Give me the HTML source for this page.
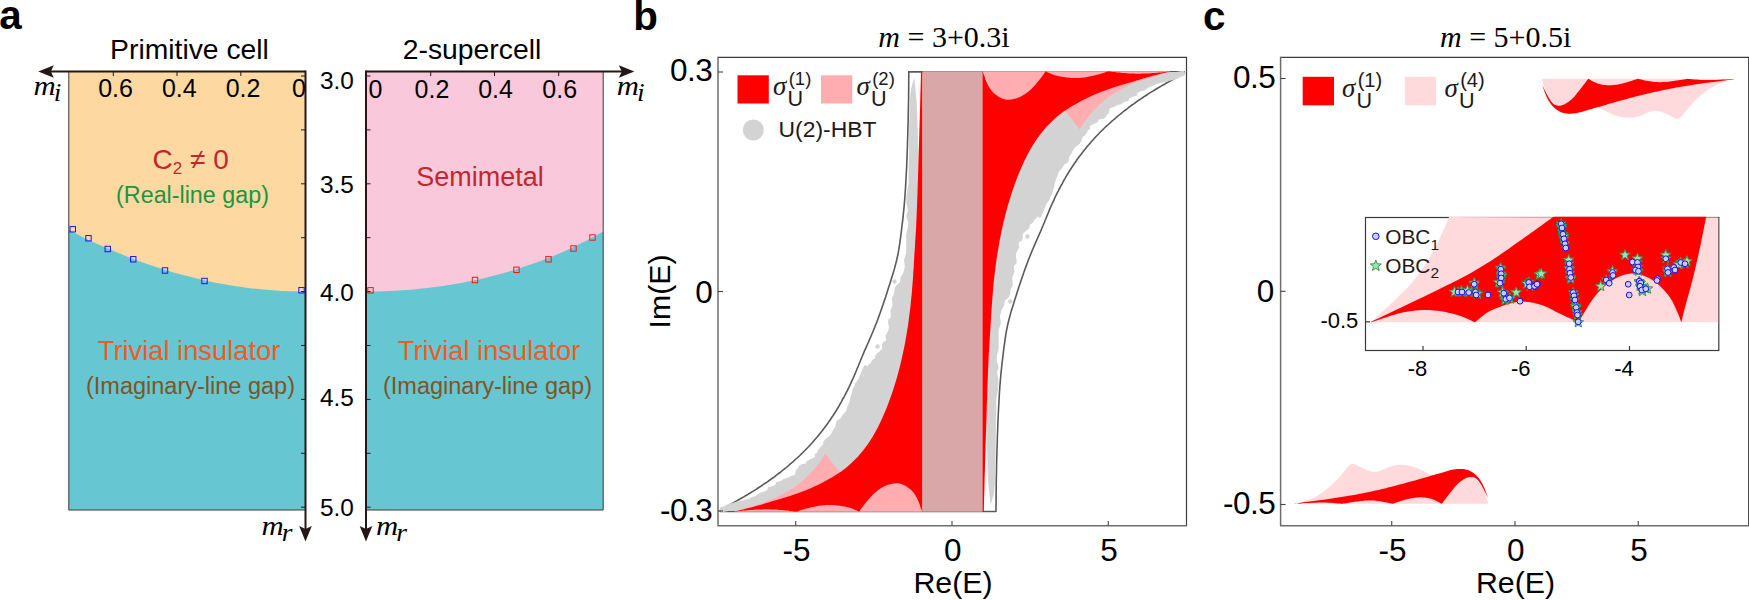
<!DOCTYPE html>
<html><head><meta charset="utf-8"><title>Figure</title>
<style>html,body{margin:0;padding:0;background:#fff}svg{display:block}</style></head>
<body>
<svg width="1749" height="600" viewBox="0 0 1749 600">
<rect width="1749" height="600" fill="#fff"/>
<rect x="68.8" y="71.5" width="236.7" height="438.5" fill="#FDD9A1"/>
<path d="M68.8 230.0 L74.7 233.0 L80.6 236.0 L86.6 238.9 L92.5 241.7 L98.4 244.4 L104.3 247.1 L110.2 249.6 L116.1 252.1 L122.1 254.6 L128.0 256.9 L133.9 259.2 L139.8 261.4 L145.7 263.5 L151.6 265.5 L157.6 267.5 L163.5 269.4 L169.4 271.2 L175.3 272.9 L181.2 274.5 L187.1 276.1 L193.1 277.6 L199.0 279.0 L204.9 280.4 L210.8 281.7 L216.7 282.9 L222.7 284.0 L228.6 285.0 L234.5 286.0 L240.4 286.8 L246.3 287.7 L252.2 288.4 L258.2 289.0 L264.1 289.6 L270.0 290.1 L275.9 290.5 L281.8 290.9 L287.7 291.2 L293.7 291.3 L299.6 291.5 L305.5 291.5 L305.5 510.0 L68.8 510.0 Z" fill="#66C6D1"/>
<rect x="366" y="71.5" width="237.20000000000005" height="438.5" fill="#F9C9DB"/>
<path d="M366.0 291.5 L371.9 291.5 L377.9 291.4 L383.8 291.2 L389.7 291.0 L395.6 290.7 L401.6 290.3 L407.5 289.9 L413.4 289.4 L419.4 288.8 L425.3 288.2 L431.2 287.5 L437.2 286.8 L443.1 285.9 L449.0 285.0 L455.0 284.0 L460.9 283.0 L466.8 281.8 L472.7 280.6 L478.7 279.4 L484.6 278.0 L490.5 276.6 L496.5 275.0 L502.4 273.4 L508.3 271.7 L514.2 270.0 L520.2 268.1 L526.1 266.1 L532.0 264.1 L538.0 262.0 L543.9 259.7 L549.8 257.4 L555.8 254.9 L561.7 252.4 L567.6 249.8 L573.6 247.0 L579.5 244.1 L585.4 241.2 L591.3 238.1 L597.3 234.8 L603.2 231.5 L603.2 510.0 L366.0 510.0 Z" fill="#66C6D1"/>
<path d="M68.8 71.5 V510 H305.5" fill="none" stroke="#3a3a3a" stroke-width="1"/>
<path d="M366 510 H603.2 V71.5" fill="none" stroke="#3a3a3a" stroke-width="1"/>
<path d="M301.0 76.0 H305.5 M366 76.0 H370.5" stroke="#231815" stroke-width="1"/>
<path d="M301.0 129.9 H305.5 M366 129.9 H370.5" stroke="#231815" stroke-width="1"/>
<path d="M301.0 183.8 H305.5 M366 183.8 H370.5" stroke="#231815" stroke-width="1"/>
<path d="M301.0 237.7 H305.5 M366 237.7 H370.5" stroke="#231815" stroke-width="1"/>
<path d="M301.0 291.6 H305.5 M366 291.6 H370.5" stroke="#231815" stroke-width="1"/>
<path d="M301.0 345.5 H305.5 M366 345.5 H370.5" stroke="#231815" stroke-width="1"/>
<path d="M301.0 399.4 H305.5 M366 399.4 H370.5" stroke="#231815" stroke-width="1"/>
<path d="M301.0 453.3 H305.5 M366 453.3 H370.5" stroke="#231815" stroke-width="1"/>
<path d="M301.0 507.2 H305.5 M366 507.2 H370.5" stroke="#231815" stroke-width="1"/>
<path d="M113.3 71.5 v4.5" stroke="#231815" stroke-width="1"/>
<path d="M177 71.5 v4.5" stroke="#231815" stroke-width="1"/>
<path d="M240.8 71.5 v4.5" stroke="#231815" stroke-width="1"/>
<path d="M430.7 71.5 v4.5" stroke="#231815" stroke-width="1"/>
<path d="M494.5 71.5 v4.5" stroke="#231815" stroke-width="1"/>
<path d="M558.7 71.5 v4.5" stroke="#231815" stroke-width="1"/>
<path d="M305.5 71.5 H48" stroke="#231815" stroke-width="2" fill="none"/>
<path d="M38.3 71.5 l15.5 -6.3 l-3 6.3 l3 6.3 z" fill="#231815"/>
<path d="M366 71.5 H625" stroke="#231815" stroke-width="2" fill="none"/>
<path d="M634.3 71.5 l-15.5 -6.3 l3 6.3 l-3 6.3 z" fill="#231815"/>
<path d="M305.5 70.5 V532" stroke="#231815" stroke-width="2" fill="none"/>
<path d="M305.5 541.5 l-6.3 -15.5 l6.3 3 l6.3 -3 z" fill="#231815"/>
<path d="M366 70.5 V532" stroke="#231815" stroke-width="2" fill="none"/>
<path d="M366 541.5 l-6.3 -15.5 l6.3 3 l6.3 -3 z" fill="#231815"/>
<rect x="70.05" y="226.55" width="5.4" height="5.4" fill="none" stroke="#1414ff" stroke-width="1"/>
<rect x="85.8" y="235.55" width="5.4" height="5.4" fill="none" stroke="#1414ff" stroke-width="1"/>
<rect x="105.05" y="246.3" width="5.4" height="5.4" fill="none" stroke="#1414ff" stroke-width="1"/>
<rect x="130.55" y="256.55" width="5.4" height="5.4" fill="none" stroke="#1414ff" stroke-width="1"/>
<rect x="162.3" y="267.8" width="5.4" height="5.4" fill="none" stroke="#1414ff" stroke-width="1"/>
<rect x="201.8" y="278.3" width="5.4" height="5.4" fill="none" stroke="#1414ff" stroke-width="1"/>
<rect x="298.8" y="287.55" width="5.4" height="5.4" fill="none" stroke="#1414ff" stroke-width="1"/>
<rect x="367.8" y="287.6" width="5.4" height="5.4" fill="none" stroke="#ff1414" stroke-width="1"/>
<rect x="472.3" y="277.3" width="5.4" height="5.4" fill="none" stroke="#ff1414" stroke-width="1"/>
<rect x="513.8" y="267.1" width="5.4" height="5.4" fill="none" stroke="#ff1414" stroke-width="1"/>
<rect x="545.8" y="256.6" width="5.4" height="5.4" fill="none" stroke="#ff1414" stroke-width="1"/>
<rect x="570.8" y="245.8" width="5.4" height="5.4" fill="none" stroke="#ff1414" stroke-width="1"/>
<rect x="589.8" y="234.8" width="5.4" height="5.4" fill="none" stroke="#ff1414" stroke-width="1"/>
<text x="189.5" y="59" font-family="Liberation Sans, Arial, sans-serif" font-size="28.3" text-anchor="middle" fill="#000">Primitive cell</text>
<text x="472" y="59" font-family="Liberation Sans, Arial, sans-serif" font-size="28.3" text-anchor="middle" fill="#000">2-supercell</text>
<text x="115.6" y="97.3" font-family="Liberation Sans, Arial, sans-serif" font-size="25" text-anchor="middle" fill="#000">0.6</text>
<text x="179.3" y="97.3" font-family="Liberation Sans, Arial, sans-serif" font-size="25" text-anchor="middle" fill="#000">0.4</text>
<text x="243.10000000000002" y="97.3" font-family="Liberation Sans, Arial, sans-serif" font-size="25" text-anchor="middle" fill="#000">0.2</text>
<text x="299" y="97.3" font-family="Liberation Sans, Arial, sans-serif" font-size="25" text-anchor="middle" fill="#000">0</text>
<text x="375.5" y="97.5" font-family="Liberation Sans, Arial, sans-serif" font-size="25" text-anchor="middle" fill="#000">0</text>
<text x="432" y="97.5" font-family="Liberation Sans, Arial, sans-serif" font-size="25" text-anchor="middle" fill="#000">0.2</text>
<text x="495.6" y="97.5" font-family="Liberation Sans, Arial, sans-serif" font-size="25" text-anchor="middle" fill="#000">0.4</text>
<text x="559.7" y="97.5" font-family="Liberation Sans, Arial, sans-serif" font-size="25" text-anchor="middle" fill="#000">0.6</text>
<text x="337" y="89" font-family="Liberation Sans, Arial, sans-serif" font-size="24.4" text-anchor="middle" fill="#000">3.0</text>
<text x="337" y="192.5" font-family="Liberation Sans, Arial, sans-serif" font-size="24.4" text-anchor="middle" fill="#000">3.5</text>
<text x="337" y="301" font-family="Liberation Sans, Arial, sans-serif" font-size="24.4" text-anchor="middle" fill="#000">4.0</text>
<text x="337" y="406" font-family="Liberation Sans, Arial, sans-serif" font-size="24.4" text-anchor="middle" fill="#000">4.5</text>
<text x="337" y="516" font-family="Liberation Sans, Arial, sans-serif" font-size="24.4" text-anchor="middle" fill="#000">5.0</text>
<text transform="translate(33.4 94.6) scale(1.1 1)" font-family="Liberation Serif, Times New Roman, serif" font-style="italic" font-size="28" fill="#000">m<tspan font-size="25" dx="-1.8" dy="6.2">i</tspan></text>
<text transform="translate(616.8 94.6) scale(1.1 1)" font-family="Liberation Serif, Times New Roman, serif" font-style="italic" font-size="28" fill="#000">m<tspan font-size="25" dx="-1.8" dy="6.2">i</tspan></text>
<text transform="translate(261.5 534.8) scale(1.1 1)" font-family="Liberation Serif, Times New Roman, serif" font-style="italic" font-size="28" fill="#000">m<tspan font-size="25" dx="-1.8" dy="6.2">r</tspan></text>
<text transform="translate(376 534.8) scale(1.1 1)" font-family="Liberation Serif, Times New Roman, serif" font-style="italic" font-size="28" fill="#000">m<tspan font-size="25" dx="-1.8" dy="6.2">r</tspan></text>
<text x="152.5" y="168.5" font-family="Liberation Sans, Arial, sans-serif" font-size="28" fill="#C1272D">C<tspan font-size="17" dy="5">2</tspan><tspan dy="-5"> ≠ 0</tspan></text>
<text x="192.5" y="202.5" font-family="Liberation Sans, Arial, sans-serif" font-size="23.3" text-anchor="middle" fill="#1A9641">(Real-line gap)</text>
<text x="480" y="186" font-family="Liberation Sans, Arial, sans-serif" font-size="27" text-anchor="middle" fill="#C1272D">Semimetal</text>
<text x="189" y="360.4" font-family="Liberation Sans, Arial, sans-serif" font-size="27.3" text-anchor="middle" fill="#F15A24">Trivial insulator</text>
<text x="489" y="360.4" font-family="Liberation Sans, Arial, sans-serif" font-size="27.3" text-anchor="middle" fill="#F15A24">Trivial insulator</text>
<text x="190.5" y="394" font-family="Liberation Sans, Arial, sans-serif" font-size="23.5" text-anchor="middle" fill="#7D5528">(Imaginary-line gap)</text>
<text x="487.5" y="394" font-family="Liberation Sans, Arial, sans-serif" font-size="23.5" text-anchor="middle" fill="#7D5528">(Imaginary-line gap)</text>
<text x="-0.8" y="29.3" font-family="Liberation Sans, Arial, sans-serif" font-size="40.3" font-weight="bold" fill="#000">a</text>
<text x="633.2" y="29.5" font-family="Liberation Sans, Arial, sans-serif" font-size="40.3" font-weight="bold" fill="#000">b</text>
<text x="878.3" y="47.3" font-family="Liberation Serif, Times New Roman, serif" font-size="30" fill="#000"><tspan font-style="italic">m</tspan> = 3+0.3i</text>
<path d="M908.8 71.9 L1184.3 71.9 L1184.3 72.7 L1183.6 73.1 L1182.8 73.6 L1181.8 74.2 L1180.7 74.9 L1179.5 75.7 L1178.2 76.4 L1176.8 77.2 L1175.5 78.0 L1174.1 78.8 L1172.7 79.6 L1171.3 80.4 L1169.7 81.2 L1168.1 82.1 L1166.5 83.0 L1164.8 84.0 L1163.0 85.0 L1161.1 86.1 L1159.2 87.3 L1157.1 88.5 L1155.0 89.8 L1152.9 91.1 L1150.7 92.4 L1148.7 93.7 L1146.7 95.0 L1144.8 96.2 L1142.9 97.5 L1141.0 98.8 L1139.2 100.0 L1137.4 101.2 L1135.6 102.5 L1133.8 103.8 L1132.1 105.0 L1130.4 106.2 L1128.7 107.5 L1127.1 108.8 L1125.5 110.0 L1123.9 111.2 L1122.3 112.5 L1120.7 113.8 L1119.2 115.0 L1117.7 116.2 L1116.2 117.5 L1114.7 118.8 L1113.3 120.0 L1111.9 121.2 L1110.5 122.5 L1109.1 123.8 L1107.7 125.0 L1106.4 126.2 L1105.0 127.5 L1103.7 128.8 L1102.4 130.0 L1101.2 131.2 L1099.9 132.5 L1098.7 133.8 L1097.5 135.0 L1096.3 136.2 L1095.1 137.5 L1094.0 138.8 L1092.9 140.0 L1091.7 141.2 L1090.7 142.5 L1089.6 143.8 L1088.5 145.0 L1087.4 146.2 L1086.4 147.5 L1085.4 148.8 L1084.4 150.0 L1083.4 151.2 L1082.4 152.5 L1081.5 153.8 L1080.5 155.0 L1079.6 156.2 L1078.6 157.5 L1077.7 158.8 L1076.8 160.0 L1076.0 161.2 L1075.1 162.5 L1074.2 163.8 L1073.4 165.0 L1072.6 166.2 L1071.7 167.5 L1070.9 168.8 L1070.1 170.0 L1069.3 171.2 L1068.5 172.5 L1067.8 173.8 L1067.0 175.0 L1066.3 176.2 L1065.5 177.5 L1064.8 178.8 L1064.1 180.0 L1063.4 181.2 L1062.8 182.5 L1062.1 183.8 L1061.4 185.0 L1060.7 186.2 L1060.1 187.5 L1059.4 188.7 L1058.8 189.9 L1058.2 191.1 L1057.5 192.4 L1056.9 193.7 L1056.2 195.0 L1055.5 196.4 L1054.8 197.8 L1054.2 199.3 L1053.5 200.8 L1052.8 202.3 L1052.1 203.9 L1051.4 205.4 L1050.7 207.0 L1050.0 208.6 L1049.3 210.3 L1048.6 212.0 L1047.9 213.7 L1047.2 215.4 L1046.5 217.0 L1045.9 218.6 L1045.3 220.0 L1044.8 221.2 L1044.5 222.0 L1044.2 222.7 L1044.0 223.3 L1043.6 224.1 L1043.2 225.2 L1042.5 226.8 L1041.6 229.0 L1040.4 231.9 L1038.9 235.2 L1037.2 239.0 L1035.4 243.1 L1033.5 247.5 L1031.6 252.0 L1029.8 256.5 L1028.0 261.0 L1026.3 265.6 L1024.5 270.5 L1022.7 275.7 L1021.0 280.8 L1019.2 286.0 L1017.6 291.0 L1016.1 295.7 L1014.7 300.0 L1013.5 303.9 L1012.4 307.5 L1011.3 310.9 L1010.4 314.1 L1009.6 317.3 L1008.8 320.3 L1008.0 323.5 L1007.3 326.7 L1006.6 330.0 L1006.0 333.3 L1005.5 336.6 L1005.0 339.8 L1004.6 343.1 L1004.1 346.4 L1003.7 349.7 L1003.3 353.0 L1002.9 356.3 L1002.5 359.6 L1002.1 362.9 L1001.7 366.3 L1001.4 369.6 L1001.0 373.0 L1000.7 376.5 L1000.4 380.0 L1000.1 383.6 L999.8 387.3 L999.6 391.0 L999.3 394.8 L999.1 398.6 L998.9 402.4 L998.7 406.2 L998.5 410.0 L998.3 413.7 L998.1 417.3 L998.0 420.8 L997.8 424.4 L997.7 428.0 L997.6 431.8 L997.4 435.8 L997.3 440.0 L997.2 444.6 L997.0 449.5 L996.9 454.6 L996.7 459.9 L996.6 465.2 L996.5 470.4 L996.4 475.3 L996.3 480.0 L996.2 484.6 L996.2 489.2 L996.1 493.8 L996.1 498.2 L996.1 502.4 L996.0 506.0 L996.0 509.1 L996.0 511.5 L996.0 511.5 L720.5 511.5 L720.5 510.3 L721.2 509.9 L722.0 509.4 L723.0 508.8 L724.1 508.1 L725.3 507.3 L726.6 506.6 L728.0 505.8 L729.3 505.0 L730.7 504.2 L732.1 503.4 L733.5 502.6 L735.1 501.8 L736.7 500.9 L738.3 500.0 L740.0 499.0 L741.8 498.0 L743.7 496.9 L745.6 495.7 L747.7 494.5 L749.8 493.2 L751.9 491.9 L754.1 490.6 L756.1 489.3 L758.1 488.0 L760.0 486.8 L761.9 485.5 L763.8 484.2 L765.6 483.0 L767.4 481.8 L769.2 480.5 L771.0 479.2 L772.7 478.0 L774.4 476.8 L776.1 475.5 L777.7 474.2 L779.3 473.0 L780.9 471.8 L782.5 470.5 L784.1 469.2 L785.6 468.0 L787.1 466.8 L788.6 465.5 L790.1 464.2 L791.5 463.0 L792.9 461.8 L794.3 460.5 L795.7 459.2 L797.1 458.0 L798.4 456.8 L799.8 455.5 L801.1 454.2 L802.4 453.0 L803.6 451.8 L804.9 450.5 L806.1 449.2 L807.3 448.0 L808.5 446.8 L809.7 445.5 L810.8 444.2 L811.9 443.0 L813.1 441.8 L814.1 440.5 L815.2 439.2 L816.3 438.0 L817.4 436.8 L818.4 435.5 L819.4 434.2 L820.4 433.0 L821.4 431.8 L822.4 430.5 L823.3 429.2 L824.3 428.0 L825.2 426.8 L826.2 425.5 L827.1 424.2 L828.0 423.0 L828.8 421.8 L829.7 420.5 L830.6 419.2 L831.4 418.0 L832.2 416.8 L833.1 415.5 L833.9 414.2 L834.7 413.0 L835.5 411.8 L836.3 410.5 L837.0 409.2 L837.8 408.0 L838.5 406.8 L839.3 405.5 L840.0 404.2 L840.7 403.0 L841.4 401.8 L842.0 400.5 L842.7 399.2 L843.4 398.0 L844.1 396.8 L844.7 395.5 L845.4 394.3 L846.0 393.1 L846.6 391.9 L847.3 390.6 L847.9 389.3 L848.6 388.0 L849.3 386.6 L850.0 385.2 L850.6 383.7 L851.3 382.2 L852.0 380.7 L852.7 379.1 L853.4 377.6 L854.1 376.0 L854.8 374.4 L855.5 372.7 L856.2 371.0 L856.9 369.3 L857.6 367.6 L858.3 366.0 L858.9 364.4 L859.5 363.0 L860.0 361.8 L860.3 361.0 L860.6 360.3 L860.8 359.7 L861.2 358.9 L861.6 357.8 L862.3 356.2 L863.2 354.0 L864.4 351.1 L865.9 347.8 L867.6 344.0 L869.4 339.9 L871.3 335.5 L873.2 331.0 L875.0 326.5 L876.8 322.0 L878.5 317.4 L880.3 312.5 L882.1 307.3 L883.8 302.2 L885.6 297.0 L887.2 292.0 L888.7 287.3 L890.1 283.0 L891.3 279.1 L892.4 275.5 L893.5 272.1 L894.4 268.9 L895.2 265.7 L896.0 262.7 L896.8 259.5 L897.5 256.3 L898.2 253.0 L898.8 249.7 L899.3 246.4 L899.8 243.2 L900.2 239.9 L900.7 236.6 L901.1 233.3 L901.5 230.0 L901.9 226.7 L902.3 223.4 L902.7 220.1 L903.1 216.7 L903.4 213.4 L903.8 210.0 L904.1 206.5 L904.4 203.0 L904.7 199.4 L905.0 195.7 L905.2 192.0 L905.5 188.2 L905.7 184.4 L905.9 180.6 L906.1 176.8 L906.3 173.0 L906.5 169.3 L906.7 165.7 L906.8 162.2 L907.0 158.6 L907.1 155.0 L907.2 151.2 L907.4 147.2 L907.5 143.0 L907.6 138.4 L907.8 133.5 L907.9 128.4 L908.1 123.1 L908.2 117.8 L908.3 112.6 L908.4 107.7 L908.5 103.0 L908.6 98.4 L908.6 93.8 L908.7 89.2 L908.7 84.8 L908.7 80.6 L908.8 77.0 L908.8 73.9 L908.8 71.5 Z" fill="none" stroke="#5a5a5a" stroke-width="1.6" stroke-linejoin="round"/>
<g>
<path d="M1183.0 72.0 L1182.6 73.1 L1182.0 74.7 L1180.9 76.4 L1178.7 78.0 L1174.9 79.4 L1169.9 80.7 L1164.6 82.0 L1160.0 83.3 L1155.6 84.3 L1153.0 86.0 L1149.4 87.1 L1147.0 88.8 L1144.2 90.4 L1140.1 91.4 L1137.4 93.0 L1136.9 95.7 L1132.5 96.7 L1129.5 98.3 L1128.4 101.0 L1123.9 102.0 L1121.5 104.1 L1116.9 105.2 L1113.9 107.1 L1109.8 108.2 L1109.3 110.8 L1108.8 113.2 L1106.9 114.8 L1105.9 117.0 L1103.4 118.7 L1098.9 119.5 L1097.9 122.0 L1094.9 123.4 L1092.2 124.7 L1089.7 126.1 L1090.3 128.9 L1087.9 130.0 L1087.4 131.7 L1086.8 133.3 L1085.4 134.3 L1085.1 135.8 L1083.0 136.1 L1083.6 137.3 L1081.9 137.9 L1081.8 140.6 L1079.5 144.0 L1074.8 147.5 L1071.9 152.4 L1069.3 156.9 L1068.4 161.8 L1064.1 164.7 L1061.9 168.6 L1058.8 171.7 L1057.6 175.7 L1056.0 179.4 L1054.8 183.0 L1054.2 186.8 L1052.9 190.1 L1052.5 193.6 L1050.6 196.3 L1049.8 199.3 L1048.1 201.4 L1046.8 203.4 L1044.2 204.9 L1041.1 206.6 L1041.0 210.5 L1039.2 214.0 L1037.0 217.4 L1034.2 220.1 L1032.7 223.0 L1029.6 224.8 L1029.5 228.0 L1027.2 230.1 L1024.8 232.1 L1022.5 234.2 L1023.0 237.7 L1022.0 240.6 L1018.5 242.7 L1019.4 247.2 L1017.5 250.4 L1016.1 253.5 L1015.9 256.8 L1016.7 260.1 L1016.6 263.3 L1013.8 266.1 L1014.5 272.1 L1012.2 277.6 L1012.9 284.8 L1010.6 289.8 L1010.2 294.6 L1008.2 298.0 L1004.8 300.7 L1004.3 305.6 L1001.4 310.3 L1000.0 316.3 L1000.8 323.6 L998.8 329.4 L998.6 335.9 L998.6 342.4 L998.7 348.9 L997.1 354.6 L996.6 360.3 L998.6 367.0 L997.0 372.5 L998.5 380.6 L998.0 389.5 L996.3 398.9 L996.3 409.6 L996.0 420.0 L995.8 430.2 L995.7 440.6 L995.7 450.7 L995.5 460.0 L995.3 468.6 L995.1 476.6 L994.8 483.8 L994.3 490.0 L993.4 495.2 L992.3 499.4 L991.2 502.7 L990.5 505.0 L988.0 480.0 L987.0 450.0 L986.0 420.0 L986.0 380.0 L990.0 300.0 L1000.0 200.0 L1060.0 100.0 L1120.0 80.0 L1170.0 72.0 Z" fill="#D3D3D3"/>
<path d="M1166 76.6 L1182.3 73.6" stroke="#D3D3D3" stroke-width="5.5" stroke-linecap="round"/>
<path d="M1044.5 204 L1039.5 216" stroke="#D3D3D3" stroke-width="3.5" stroke-linecap="round"/>
<circle cx="1027.3" cy="236.5" r="2.2" fill="#D3D3D3"/>
<circle cx="1010.3" cy="301.5" r="2.2" fill="#D3D3D3"/>
</g>
<g transform="rotate(180 952.4 291.5)">
<path d="M1183.0 72.0 L1182.6 73.1 L1182.0 74.7 L1180.9 76.4 L1178.7 78.0 L1174.9 79.4 L1169.9 80.7 L1164.6 82.0 L1160.0 83.3 L1155.6 84.3 L1153.0 86.0 L1149.4 87.1 L1147.0 88.8 L1144.2 90.4 L1140.1 91.4 L1137.4 93.0 L1136.9 95.7 L1132.5 96.7 L1129.5 98.3 L1128.4 101.0 L1123.9 102.0 L1121.5 104.1 L1116.9 105.2 L1113.9 107.1 L1109.8 108.2 L1109.3 110.8 L1108.8 113.2 L1106.9 114.8 L1105.9 117.0 L1103.4 118.7 L1098.9 119.5 L1097.9 122.0 L1094.9 123.4 L1092.2 124.7 L1089.7 126.1 L1090.3 128.9 L1087.9 130.0 L1087.4 131.7 L1086.8 133.3 L1085.4 134.3 L1085.1 135.8 L1083.0 136.1 L1083.6 137.3 L1081.9 137.9 L1081.8 140.6 L1079.5 144.0 L1074.8 147.5 L1071.9 152.4 L1069.3 156.9 L1068.4 161.8 L1064.1 164.7 L1061.9 168.6 L1058.8 171.7 L1057.6 175.7 L1056.0 179.4 L1054.8 183.0 L1054.2 186.8 L1052.9 190.1 L1052.5 193.6 L1050.6 196.3 L1049.8 199.3 L1048.1 201.4 L1046.8 203.4 L1044.2 204.9 L1041.1 206.6 L1041.0 210.5 L1039.2 214.0 L1037.0 217.4 L1034.2 220.1 L1032.7 223.0 L1029.6 224.8 L1029.5 228.0 L1027.2 230.1 L1024.8 232.1 L1022.5 234.2 L1023.0 237.7 L1022.0 240.6 L1018.5 242.7 L1019.4 247.2 L1017.5 250.4 L1016.1 253.5 L1015.9 256.8 L1016.7 260.1 L1016.6 263.3 L1013.8 266.1 L1014.5 272.1 L1012.2 277.6 L1012.9 284.8 L1010.6 289.8 L1010.2 294.6 L1008.2 298.0 L1004.8 300.7 L1004.3 305.6 L1001.4 310.3 L1000.0 316.3 L1000.8 323.6 L998.8 329.4 L998.6 335.9 L998.6 342.4 L998.7 348.9 L997.1 354.6 L996.6 360.3 L998.6 367.0 L997.0 372.5 L998.5 380.6 L998.0 389.5 L996.3 398.9 L996.3 409.6 L996.0 420.0 L995.8 430.2 L995.7 440.6 L995.7 450.7 L995.5 460.0 L995.3 468.6 L995.1 476.6 L994.8 483.8 L994.3 490.0 L993.4 495.2 L992.3 499.4 L991.2 502.7 L990.5 505.0 L988.0 480.0 L987.0 450.0 L986.0 420.0 L986.0 380.0 L990.0 300.0 L1000.0 200.0 L1060.0 100.0 L1120.0 80.0 L1170.0 72.0 Z" fill="#D3D3D3"/>
<path d="M1166 76.6 L1182.3 73.6" stroke="#D3D3D3" stroke-width="5.5" stroke-linecap="round"/>
<path d="M1044.5 204 L1039.5 216" stroke="#D3D3D3" stroke-width="3.5" stroke-linecap="round"/>
<circle cx="1027.3" cy="236.5" r="2.2" fill="#D3D3D3"/>
<circle cx="1010.3" cy="301.5" r="2.2" fill="#D3D3D3"/>
</g>
<g>
<path d="M982.3 71.3 L1170.8 71.3 L1170.8 71.3 L1170.0 71.6 L1168.9 71.9 L1167.7 72.3 L1166.2 72.7 L1164.7 73.2 L1163.1 73.7 L1161.5 74.2 L1160.0 74.7 L1158.5 75.2 L1156.9 75.6 L1155.3 76.1 L1153.7 76.6 L1152.0 77.1 L1150.3 77.6 L1148.5 78.2 L1146.7 78.8 L1144.8 79.5 L1142.8 80.1 L1140.7 80.8 L1138.6 81.6 L1136.4 82.4 L1134.3 83.2 L1132.1 84.1 L1130.0 85.0 L1127.8 86.0 L1125.6 87.2 L1123.3 88.4 L1121.0 89.6 L1118.7 90.9 L1116.6 92.1 L1114.7 93.2 L1113.0 94.2 L1111.6 95.1 L1110.4 95.8 L1109.4 96.5 L1108.5 97.2 L1107.6 97.8 L1106.8 98.5 L1106.0 99.2 L1105.0 100.0 L1104.0 100.8 L1102.9 101.7 L1101.9 102.6 L1100.9 103.5 L1099.8 104.5 L1098.8 105.5 L1097.7 106.5 L1096.7 107.5 L1095.7 108.5 L1094.6 109.6 L1093.6 110.7 L1092.5 111.8 L1091.5 112.9 L1090.4 114.1 L1089.4 115.4 L1088.3 116.7 L1087.2 118.2 L1085.9 119.9 L1084.6 121.7 L1083.4 123.5 L1082.2 125.3 L1081.1 126.9 L1080.2 128.2 L1079.5 129.2 L1065.0 110.5 L1000.0 110.0 Z" fill="#FFADB0"/>
<path d="M982.3 511.7 L982.3 71.3 L982.5 71.7 L982.7 72.1 L983.0 72.7 L983.3 73.3 L983.6 73.9 L983.9 74.6 L984.2 75.3 L984.5 76.0 L984.8 76.7 L985.0 77.3 L985.2 78.0 L985.4 78.7 L985.6 79.5 L985.9 80.2 L986.3 81.1 L986.7 82.0 L987.2 83.0 L987.7 84.2 L988.3 85.4 L989.0 86.6 L989.7 87.9 L990.4 89.1 L991.2 90.3 L992.0 91.3 L992.9 92.3 L993.8 93.2 L994.8 94.0 L995.8 94.8 L996.9 95.6 L997.9 96.3 L999.0 96.9 L1000.0 97.5 L1001.0 98.0 L1001.9 98.4 L1002.9 98.8 L1003.8 99.1 L1004.8 99.4 L1005.8 99.6 L1006.9 99.7 L1008.0 99.7 L1009.2 99.7 L1010.5 99.6 L1011.8 99.4 L1013.2 99.1 L1014.6 98.8 L1016.0 98.5 L1017.4 98.0 L1018.7 97.5 L1020.0 96.9 L1021.3 96.2 L1022.6 95.5 L1024.0 94.7 L1025.3 93.8 L1026.5 92.9 L1027.8 92.0 L1029.0 91.0 L1030.2 90.0 L1031.4 88.9 L1032.5 87.7 L1033.7 86.5 L1034.8 85.2 L1035.9 84.0 L1036.9 82.7 L1038.0 81.5 L1039.1 80.2 L1040.2 78.8 L1041.4 77.3 L1042.5 75.8 L1043.5 74.4 L1044.4 73.1 L1045.2 72.1 L1045.8 71.3 L1046.4 71.6 L1047.1 71.9 L1047.9 72.4 L1048.9 72.8 L1049.9 73.3 L1051.0 73.8 L1052.0 74.2 L1053.0 74.6 L1054.0 74.9 L1054.9 75.2 L1055.9 75.5 L1057.0 75.7 L1058.0 76.0 L1059.0 76.2 L1060.0 76.4 L1061.0 76.6 L1062.0 76.8 L1063.0 77.0 L1064.0 77.1 L1065.0 77.3 L1066.0 77.4 L1067.0 77.5 L1068.0 77.6 L1069.0 77.7 L1070.0 77.8 L1071.0 77.9 L1071.9 77.9 L1072.9 78.0 L1073.9 78.0 L1074.9 78.0 L1075.9 78.0 L1077.0 78.0 L1078.2 77.9 L1079.4 77.9 L1080.6 77.8 L1081.9 77.7 L1083.2 77.5 L1084.5 77.4 L1085.7 77.2 L1087.0 77.0 L1088.2 76.8 L1089.5 76.6 L1090.7 76.3 L1091.9 76.1 L1093.2 75.8 L1094.4 75.5 L1095.7 75.1 L1097.0 74.8 L1098.4 74.4 L1100.0 73.9 L1101.6 73.4 L1103.3 72.9 L1104.8 72.4 L1106.2 72.0 L1107.4 71.6 L1108.3 71.3 L1109.4 71.4 L1110.9 71.6 L1112.7 71.9 L1114.7 72.1 L1116.8 72.4 L1119.0 72.6 L1121.0 72.8 L1123.0 73.0 L1124.8 73.1 L1126.7 73.3 L1128.5 73.4 L1130.4 73.5 L1132.2 73.6 L1134.1 73.6 L1136.0 73.7 L1138.0 73.7 L1140.0 73.7 L1142.1 73.6 L1144.3 73.6 L1146.5 73.5 L1148.6 73.4 L1150.8 73.3 L1152.9 73.1 L1155.0 73.0 L1157.1 72.8 L1159.4 72.6 L1161.7 72.4 L1164.0 72.1 L1166.1 71.9 L1168.0 71.6 L1169.6 71.4 L1170.8 71.3 L1170.0 71.5 L1168.9 71.8 L1167.7 72.1 L1166.2 72.4 L1164.7 72.8 L1163.1 73.2 L1161.5 73.6 L1160.0 74.0 L1158.5 74.4 L1156.9 74.8 L1155.3 75.2 L1153.7 75.6 L1152.0 76.0 L1150.3 76.5 L1148.5 77.0 L1146.7 77.5 L1144.8 78.1 L1142.8 78.6 L1140.7 79.3 L1138.6 79.9 L1136.4 80.6 L1134.3 81.2 L1132.1 81.9 L1130.0 82.5 L1127.9 83.1 L1125.8 83.7 L1123.7 84.3 L1121.6 84.9 L1119.6 85.5 L1117.5 86.2 L1115.4 86.8 L1113.3 87.5 L1111.2 88.2 L1109.1 88.9 L1107.1 89.7 L1105.0 90.4 L1102.9 91.2 L1100.9 92.0 L1098.8 92.8 L1096.7 93.7 L1094.6 94.6 L1092.5 95.6 L1090.4 96.5 L1088.2 97.5 L1086.1 98.6 L1084.1 99.6 L1082.0 100.6 L1080.0 101.7 L1078.0 102.8 L1076.0 103.9 L1074.0 105.0 L1072.1 106.1 L1070.2 107.3 L1068.4 108.4 L1066.7 109.5 L1065.1 110.5 L1063.6 111.5 L1062.3 112.5 L1061.1 113.4 L1059.9 114.3 L1058.8 115.2 L1057.8 116.1 L1056.7 117.0 L1055.6 118.0 L1054.5 119.0 L1053.4 119.9 L1052.4 120.9 L1051.3 121.9 L1050.3 122.9 L1049.3 123.9 L1048.3 124.9 L1047.3 126.0 L1046.3 127.1 L1045.4 128.2 L1044.4 129.3 L1043.5 130.4 L1042.5 131.5 L1041.6 132.7 L1040.7 133.8 L1039.8 135.0 L1038.9 136.2 L1038.0 137.4 L1037.2 138.6 L1036.3 139.9 L1035.5 141.1 L1034.6 142.4 L1033.8 143.7 L1033.0 145.0 L1032.2 146.3 L1031.4 147.7 L1030.6 149.0 L1029.8 150.4 L1029.1 151.8 L1028.3 153.2 L1027.5 154.6 L1026.8 156.0 L1026.1 157.5 L1025.3 158.9 L1024.6 160.4 L1023.9 161.9 L1023.2 163.5 L1022.5 165.0 L1021.9 166.5 L1021.2 168.0 L1020.6 169.5 L1019.9 170.9 L1019.3 172.4 L1018.7 173.8 L1018.1 175.3 L1017.5 176.8 L1016.9 178.4 L1016.3 180.0 L1015.7 181.7 L1015.0 183.5 L1014.4 185.3 L1013.7 187.2 L1013.0 189.1 L1012.4 191.0 L1011.7 193.0 L1011.1 195.0 L1010.5 197.0 L1009.8 199.0 L1009.2 201.1 L1008.6 203.2 L1007.9 205.3 L1007.3 207.5 L1006.7 209.7 L1006.1 212.0 L1005.5 214.3 L1004.9 216.7 L1004.3 219.1 L1003.7 221.6 L1003.1 224.1 L1002.5 226.7 L1002.0 229.3 L1001.4 232.0 L1000.8 234.7 L1000.3 237.5 L999.7 240.3 L999.2 243.2 L998.7 246.1 L998.2 249.0 L997.7 252.0 L997.2 255.0 L996.7 258.0 L996.3 261.2 L995.9 264.3 L995.5 267.5 L995.1 270.7 L994.7 273.8 L994.3 277.0 L994.0 280.0 L993.7 283.0 L993.4 285.9 L993.1 288.8 L992.9 291.7 L992.7 294.5 L992.4 297.4 L992.2 300.2 L992.0 303.0 L991.8 305.7 L991.6 308.3 L991.5 310.8 L991.3 313.2 L991.1 315.8 L991.0 318.6 L990.8 321.6 L990.6 325.0 L990.4 328.7 L990.1 332.7 L989.8 337.0 L989.6 341.4 L989.3 345.9 L989.0 350.6 L988.7 355.3 L988.5 360.0 L988.3 364.8 L988.1 369.6 L987.9 374.6 L987.7 379.7 L987.5 384.8 L987.3 389.9 L987.2 395.0 L987.0 400.0 L986.8 405.0 L986.7 410.0 L986.5 415.0 L986.4 420.0 L986.2 425.0 L986.1 430.0 L985.9 435.0 L985.8 440.0 L985.6 445.1 L985.5 450.2 L985.3 455.4 L985.2 460.5 L985.0 465.6 L984.9 470.6 L984.7 475.4 L984.6 480.0 L984.5 484.6 L984.4 489.3 L984.2 493.9 L984.1 498.4 L984.0 502.5 L983.9 506.2 L983.9 509.3 L983.8 511.7 Z" fill="#FF0000"/>
</g>
<g transform="rotate(180 952.4 291.5)">
<path d="M982.3 71.3 L1170.8 71.3 L1170.8 71.3 L1170.0 71.6 L1168.9 71.9 L1167.7 72.3 L1166.2 72.7 L1164.7 73.2 L1163.1 73.7 L1161.5 74.2 L1160.0 74.7 L1158.5 75.2 L1156.9 75.6 L1155.3 76.1 L1153.7 76.6 L1152.0 77.1 L1150.3 77.6 L1148.5 78.2 L1146.7 78.8 L1144.8 79.5 L1142.8 80.1 L1140.7 80.8 L1138.6 81.6 L1136.4 82.4 L1134.3 83.2 L1132.1 84.1 L1130.0 85.0 L1127.8 86.0 L1125.6 87.2 L1123.3 88.4 L1121.0 89.6 L1118.7 90.9 L1116.6 92.1 L1114.7 93.2 L1113.0 94.2 L1111.6 95.1 L1110.4 95.8 L1109.4 96.5 L1108.5 97.2 L1107.6 97.8 L1106.8 98.5 L1106.0 99.2 L1105.0 100.0 L1104.0 100.8 L1102.9 101.7 L1101.9 102.6 L1100.9 103.5 L1099.8 104.5 L1098.8 105.5 L1097.7 106.5 L1096.7 107.5 L1095.7 108.5 L1094.6 109.6 L1093.6 110.7 L1092.5 111.8 L1091.5 112.9 L1090.4 114.1 L1089.4 115.4 L1088.3 116.7 L1087.2 118.2 L1085.9 119.9 L1084.6 121.7 L1083.4 123.5 L1082.2 125.3 L1081.1 126.9 L1080.2 128.2 L1079.5 129.2 L1065.0 110.5 L1000.0 110.0 Z" fill="#FFADB0"/>
<path d="M982.3 511.7 L982.3 71.3 L982.5 71.7 L982.7 72.1 L983.0 72.7 L983.3 73.3 L983.6 73.9 L983.9 74.6 L984.2 75.3 L984.5 76.0 L984.8 76.7 L985.0 77.3 L985.2 78.0 L985.4 78.7 L985.6 79.5 L985.9 80.2 L986.3 81.1 L986.7 82.0 L987.2 83.0 L987.7 84.2 L988.3 85.4 L989.0 86.6 L989.7 87.9 L990.4 89.1 L991.2 90.3 L992.0 91.3 L992.9 92.3 L993.8 93.2 L994.8 94.0 L995.8 94.8 L996.9 95.6 L997.9 96.3 L999.0 96.9 L1000.0 97.5 L1001.0 98.0 L1001.9 98.4 L1002.9 98.8 L1003.8 99.1 L1004.8 99.4 L1005.8 99.6 L1006.9 99.7 L1008.0 99.7 L1009.2 99.7 L1010.5 99.6 L1011.8 99.4 L1013.2 99.1 L1014.6 98.8 L1016.0 98.5 L1017.4 98.0 L1018.7 97.5 L1020.0 96.9 L1021.3 96.2 L1022.6 95.5 L1024.0 94.7 L1025.3 93.8 L1026.5 92.9 L1027.8 92.0 L1029.0 91.0 L1030.2 90.0 L1031.4 88.9 L1032.5 87.7 L1033.7 86.5 L1034.8 85.2 L1035.9 84.0 L1036.9 82.7 L1038.0 81.5 L1039.1 80.2 L1040.2 78.8 L1041.4 77.3 L1042.5 75.8 L1043.5 74.4 L1044.4 73.1 L1045.2 72.1 L1045.8 71.3 L1046.4 71.6 L1047.1 71.9 L1047.9 72.4 L1048.9 72.8 L1049.9 73.3 L1051.0 73.8 L1052.0 74.2 L1053.0 74.6 L1054.0 74.9 L1054.9 75.2 L1055.9 75.5 L1057.0 75.7 L1058.0 76.0 L1059.0 76.2 L1060.0 76.4 L1061.0 76.6 L1062.0 76.8 L1063.0 77.0 L1064.0 77.1 L1065.0 77.3 L1066.0 77.4 L1067.0 77.5 L1068.0 77.6 L1069.0 77.7 L1070.0 77.8 L1071.0 77.9 L1071.9 77.9 L1072.9 78.0 L1073.9 78.0 L1074.9 78.0 L1075.9 78.0 L1077.0 78.0 L1078.2 77.9 L1079.4 77.9 L1080.6 77.8 L1081.9 77.7 L1083.2 77.5 L1084.5 77.4 L1085.7 77.2 L1087.0 77.0 L1088.2 76.8 L1089.5 76.6 L1090.7 76.3 L1091.9 76.1 L1093.2 75.8 L1094.4 75.5 L1095.7 75.1 L1097.0 74.8 L1098.4 74.4 L1100.0 73.9 L1101.6 73.4 L1103.3 72.9 L1104.8 72.4 L1106.2 72.0 L1107.4 71.6 L1108.3 71.3 L1109.4 71.4 L1110.9 71.6 L1112.7 71.9 L1114.7 72.1 L1116.8 72.4 L1119.0 72.6 L1121.0 72.8 L1123.0 73.0 L1124.8 73.1 L1126.7 73.3 L1128.5 73.4 L1130.4 73.5 L1132.2 73.6 L1134.1 73.6 L1136.0 73.7 L1138.0 73.7 L1140.0 73.7 L1142.1 73.6 L1144.3 73.6 L1146.5 73.5 L1148.6 73.4 L1150.8 73.3 L1152.9 73.1 L1155.0 73.0 L1157.1 72.8 L1159.4 72.6 L1161.7 72.4 L1164.0 72.1 L1166.1 71.9 L1168.0 71.6 L1169.6 71.4 L1170.8 71.3 L1170.0 71.5 L1168.9 71.8 L1167.7 72.1 L1166.2 72.4 L1164.7 72.8 L1163.1 73.2 L1161.5 73.6 L1160.0 74.0 L1158.5 74.4 L1156.9 74.8 L1155.3 75.2 L1153.7 75.6 L1152.0 76.0 L1150.3 76.5 L1148.5 77.0 L1146.7 77.5 L1144.8 78.1 L1142.8 78.6 L1140.7 79.3 L1138.6 79.9 L1136.4 80.6 L1134.3 81.2 L1132.1 81.9 L1130.0 82.5 L1127.9 83.1 L1125.8 83.7 L1123.7 84.3 L1121.6 84.9 L1119.6 85.5 L1117.5 86.2 L1115.4 86.8 L1113.3 87.5 L1111.2 88.2 L1109.1 88.9 L1107.1 89.7 L1105.0 90.4 L1102.9 91.2 L1100.9 92.0 L1098.8 92.8 L1096.7 93.7 L1094.6 94.6 L1092.5 95.6 L1090.4 96.5 L1088.2 97.5 L1086.1 98.6 L1084.1 99.6 L1082.0 100.6 L1080.0 101.7 L1078.0 102.8 L1076.0 103.9 L1074.0 105.0 L1072.1 106.1 L1070.2 107.3 L1068.4 108.4 L1066.7 109.5 L1065.1 110.5 L1063.6 111.5 L1062.3 112.5 L1061.1 113.4 L1059.9 114.3 L1058.8 115.2 L1057.8 116.1 L1056.7 117.0 L1055.6 118.0 L1054.5 119.0 L1053.4 119.9 L1052.4 120.9 L1051.3 121.9 L1050.3 122.9 L1049.3 123.9 L1048.3 124.9 L1047.3 126.0 L1046.3 127.1 L1045.4 128.2 L1044.4 129.3 L1043.5 130.4 L1042.5 131.5 L1041.6 132.7 L1040.7 133.8 L1039.8 135.0 L1038.9 136.2 L1038.0 137.4 L1037.2 138.6 L1036.3 139.9 L1035.5 141.1 L1034.6 142.4 L1033.8 143.7 L1033.0 145.0 L1032.2 146.3 L1031.4 147.7 L1030.6 149.0 L1029.8 150.4 L1029.1 151.8 L1028.3 153.2 L1027.5 154.6 L1026.8 156.0 L1026.1 157.5 L1025.3 158.9 L1024.6 160.4 L1023.9 161.9 L1023.2 163.5 L1022.5 165.0 L1021.9 166.5 L1021.2 168.0 L1020.6 169.5 L1019.9 170.9 L1019.3 172.4 L1018.7 173.8 L1018.1 175.3 L1017.5 176.8 L1016.9 178.4 L1016.3 180.0 L1015.7 181.7 L1015.0 183.5 L1014.4 185.3 L1013.7 187.2 L1013.0 189.1 L1012.4 191.0 L1011.7 193.0 L1011.1 195.0 L1010.5 197.0 L1009.8 199.0 L1009.2 201.1 L1008.6 203.2 L1007.9 205.3 L1007.3 207.5 L1006.7 209.7 L1006.1 212.0 L1005.5 214.3 L1004.9 216.7 L1004.3 219.1 L1003.7 221.6 L1003.1 224.1 L1002.5 226.7 L1002.0 229.3 L1001.4 232.0 L1000.8 234.7 L1000.3 237.5 L999.7 240.3 L999.2 243.2 L998.7 246.1 L998.2 249.0 L997.7 252.0 L997.2 255.0 L996.7 258.0 L996.3 261.2 L995.9 264.3 L995.5 267.5 L995.1 270.7 L994.7 273.8 L994.3 277.0 L994.0 280.0 L993.7 283.0 L993.4 285.9 L993.1 288.8 L992.9 291.7 L992.7 294.5 L992.4 297.4 L992.2 300.2 L992.0 303.0 L991.8 305.7 L991.6 308.3 L991.5 310.8 L991.3 313.2 L991.1 315.8 L991.0 318.6 L990.8 321.6 L990.6 325.0 L990.4 328.7 L990.1 332.7 L989.8 337.0 L989.6 341.4 L989.3 345.9 L989.0 350.6 L988.7 355.3 L988.5 360.0 L988.3 364.8 L988.1 369.6 L987.9 374.6 L987.7 379.7 L987.5 384.8 L987.3 389.9 L987.2 395.0 L987.0 400.0 L986.8 405.0 L986.7 410.0 L986.5 415.0 L986.4 420.0 L986.2 425.0 L986.1 430.0 L985.9 435.0 L985.8 440.0 L985.6 445.1 L985.5 450.2 L985.3 455.4 L985.2 460.5 L985.0 465.6 L984.9 470.6 L984.7 475.4 L984.6 480.0 L984.5 484.6 L984.4 489.3 L984.2 493.9 L984.1 498.4 L984.0 502.5 L983.9 506.2 L983.9 509.3 L983.8 511.7 Z" fill="#FF0000"/>
</g>
<rect x="922.5" y="71.3" width="59.8" height="440.4" fill="#D9A7A7"/>
<path d="M718 57.3 H1186.5 V525.8" fill="none" stroke="#3c3c3c" stroke-width="1.2"/>
<path d="M718 56.7 V525.8 H1187.1" fill="none" stroke="#6e6e6e" stroke-width="1.5"/>
<path d="M795.75 525.8 v-4.8" stroke="#444" stroke-width="1.1"/>
<path d="M952 525.8 v-4.8" stroke="#444" stroke-width="1.1"/>
<path d="M1108.25 525.8 v-4.8" stroke="#444" stroke-width="1.1"/>
<path d="M718 72 h5" stroke="#444" stroke-width="1.1"/>
<path d="M718 291.5 h5" stroke="#444" stroke-width="1.1"/>
<path d="M718 511 h5" stroke="#444" stroke-width="1.1"/>
<text x="796.55" y="560.6" font-family="Liberation Sans, Arial, sans-serif" font-size="31.5" text-anchor="middle" fill="#000">-5</text>
<text x="952.8" y="560.6" font-family="Liberation Sans, Arial, sans-serif" font-size="31.5" text-anchor="middle" fill="#000">0</text>
<text x="1109.05" y="560.6" font-family="Liberation Sans, Arial, sans-serif" font-size="31.5" text-anchor="middle" fill="#000">5</text>
<text x="712.3" y="81.3" font-family="Liberation Sans, Arial, sans-serif" font-size="31.5" letter-spacing="-0.5" text-anchor="end" fill="#000">0.3</text>
<text x="712.3" y="302.5" font-family="Liberation Sans, Arial, sans-serif" font-size="31.5" letter-spacing="-0.5" text-anchor="end" fill="#000">0</text>
<text x="712.3" y="521" font-family="Liberation Sans, Arial, sans-serif" font-size="31.5" letter-spacing="-0.5" text-anchor="end" fill="#000">-0.3</text>
<text x="953" y="592.5" font-family="Liberation Sans, Arial, sans-serif" font-size="30.3" text-anchor="middle" fill="#000">Re(E)</text>
<text transform="translate(669.6 291.5) rotate(-90)" font-family="Liberation Sans, Arial, sans-serif" font-size="30.3" text-anchor="middle" fill="#000">Im(E)</text>
<rect x="737.5" y="75.3" width="31.3" height="28.2" fill="#FF0000"/>
<rect x="821" y="75.3" width="31.3" height="28.2" fill="#FFADB0"/>
<text x="773" y="95" font-family="Liberation Serif, Times New Roman, serif" font-style="italic" font-size="27" fill="#231815">σ</text>
<text x="788.7" y="85.4" font-family="Liberation Sans, Arial, sans-serif" font-size="18.5" fill="#231815">(1)</text>
<text x="787.6" y="106" font-family="Liberation Sans, Arial, sans-serif" font-size="21.6" fill="#231815">U</text>
<text x="856.5" y="95" font-family="Liberation Serif, Times New Roman, serif" font-style="italic" font-size="27" fill="#231815">σ</text>
<text x="872.2" y="85.4" font-family="Liberation Sans, Arial, sans-serif" font-size="18.5" fill="#231815">(2)</text>
<text x="871.1" y="106" font-family="Liberation Sans, Arial, sans-serif" font-size="21.6" fill="#231815">U</text>
<circle cx="753.3" cy="130" r="10.5" fill="#D3D3D3"/>
<text x="778.5" y="137" font-family="Liberation Sans, Arial, sans-serif" font-size="22.9" fill="#231815">U(2)-HBT</text>
<text x="1203" y="29.5" font-family="Liberation Sans, Arial, sans-serif" font-size="40.3" font-weight="bold" fill="#000">c</text>
<text x="1440" y="47.3" font-family="Liberation Serif, Times New Roman, serif" font-size="30" fill="#000"><tspan font-style="italic">m</tspan> = 5+0.5i</text>
<g>
<path d="M1541.7 78.8 L1735.0 78.8 L1735.0 78.8 L1734.5 78.9 L1733.8 79.1 L1733.0 79.3 L1732.2 79.5 L1731.2 79.7 L1730.2 80.0 L1729.3 80.2 L1728.3 80.5 L1727.3 80.8 L1726.3 81.1 L1725.3 81.4 L1724.2 81.7 L1723.2 82.1 L1722.1 82.5 L1721.0 82.9 L1720.0 83.3 L1719.0 83.7 L1717.9 84.2 L1716.9 84.7 L1715.9 85.2 L1714.8 85.7 L1713.8 86.3 L1712.7 86.9 L1711.7 87.5 L1710.7 88.1 L1709.6 88.8 L1708.6 89.5 L1707.5 90.2 L1706.4 90.9 L1705.4 91.7 L1704.3 92.5 L1703.3 93.3 L1702.3 94.1 L1701.2 95.0 L1700.2 95.9 L1699.1 96.8 L1698.1 97.8 L1697.1 98.8 L1696.0 99.8 L1695.0 100.8 L1693.9 101.9 L1692.9 103.0 L1691.8 104.2 L1690.7 105.4 L1689.6 106.6 L1688.6 107.8 L1687.6 108.9 L1686.7 110.0 L1685.9 111.0 L1685.1 112.0 L1684.3 113.0 L1683.6 114.0 L1682.9 114.9 L1682.3 115.7 L1681.6 116.4 L1681.0 117.0 L1680.4 117.5 L1679.9 117.9 L1679.4 118.2 L1678.9 118.5 L1678.4 118.6 L1677.9 118.7 L1677.3 118.7 L1676.7 118.7 L1676.0 118.6 L1675.2 118.3 L1674.4 118.0 L1673.5 117.6 L1672.6 117.1 L1671.7 116.7 L1670.9 116.2 L1670.0 115.8 L1669.2 115.4 L1668.3 115.0 L1667.5 114.5 L1666.6 114.1 L1665.8 113.6 L1665.0 113.2 L1664.1 112.8 L1663.3 112.5 L1662.5 112.2 L1661.6 111.9 L1660.8 111.6 L1660.0 111.4 L1659.2 111.2 L1658.4 111.0 L1657.5 110.9 L1656.7 110.8 L1655.9 110.8 L1655.1 110.8 L1654.3 110.8 L1653.6 110.9 L1652.8 111.0 L1651.9 111.2 L1651.0 111.4 L1650.0 111.7 L1648.9 112.1 L1647.7 112.5 L1646.5 113.1 L1645.2 113.7 L1643.9 114.3 L1642.6 114.8 L1641.3 115.4 L1640.0 115.8 L1638.8 116.2 L1637.5 116.5 L1636.2 116.8 L1635.0 117.1 L1633.8 117.4 L1632.5 117.6 L1631.2 117.7 L1630.0 117.8 L1628.8 117.8 L1627.5 117.8 L1626.2 117.7 L1625.0 117.6 L1623.8 117.4 L1622.5 117.2 L1621.2 117.0 L1620.0 116.7 L1618.8 116.4 L1617.5 116.1 L1616.3 115.7 L1615.1 115.3 L1613.9 114.9 L1612.6 114.4 L1611.3 113.9 L1610.0 113.3 L1608.6 112.6 L1607.0 111.8 L1605.3 111.0 L1603.6 110.1 L1602.0 109.2 L1600.6 108.4 L1599.4 107.8 L1598.5 107.3 L1586.7 110.0 L1565.0 112.8 L1555.2 104.6 L1549.3 97.6 L1544.7 88.3 Z" fill="#FFDADC"/>
<path d="M1542.0 84.2 L1542.2 84.6 L1542.4 85.1 L1542.7 85.8 L1543.0 86.5 L1543.4 87.2 L1543.7 88.0 L1544.1 88.8 L1544.5 89.6 L1544.9 90.4 L1545.3 91.2 L1545.8 92.1 L1546.2 93.0 L1546.7 93.9 L1547.2 94.8 L1547.7 95.7 L1548.2 96.6 L1548.7 97.5 L1549.3 98.4 L1549.9 99.3 L1550.4 100.2 L1551.0 101.1 L1551.6 101.9 L1552.2 102.6 L1552.8 103.2 L1553.4 103.7 L1553.9 104.2 L1554.5 104.5 L1555.1 104.9 L1555.7 105.1 L1556.2 105.3 L1556.9 105.5 L1557.5 105.6 L1558.2 105.7 L1558.8 105.7 L1559.5 105.7 L1560.2 105.7 L1560.9 105.6 L1561.7 105.4 L1562.5 105.1 L1563.3 104.8 L1564.2 104.4 L1565.2 103.8 L1566.3 103.3 L1567.3 102.6 L1568.4 101.9 L1569.5 101.1 L1570.5 100.3 L1571.5 99.5 L1572.4 98.6 L1573.3 97.7 L1574.2 96.7 L1575.1 95.7 L1575.9 94.7 L1576.7 93.6 L1577.5 92.6 L1578.3 91.7 L1579.0 90.8 L1579.7 89.9 L1580.4 89.1 L1581.0 88.3 L1581.6 87.4 L1582.3 86.6 L1582.9 85.8 L1583.5 85.0 L1584.2 84.2 L1584.8 83.3 L1585.5 82.4 L1586.2 81.5 L1586.9 80.6 L1587.4 79.9 L1587.9 79.3 L1588.3 78.8 L1589.1 79.2 L1590.1 79.8 L1591.2 80.4 L1592.6 81.2 L1594.0 81.9 L1595.4 82.6 L1596.9 83.2 L1598.3 83.7 L1599.7 84.1 L1601.1 84.4 L1602.5 84.7 L1603.9 84.9 L1605.4 85.1 L1606.9 85.2 L1608.4 85.3 L1610.0 85.3 L1611.6 85.2 L1613.2 85.1 L1614.8 84.9 L1616.5 84.7 L1618.2 84.4 L1619.9 84.1 L1621.6 83.7 L1623.3 83.3 L1625.1 82.8 L1627.1 82.2 L1629.2 81.6 L1631.2 80.9 L1633.2 80.3 L1634.9 79.7 L1636.4 79.2 L1637.5 78.8 L1638.5 79.0 L1639.8 79.3 L1641.3 79.6 L1643.0 80.0 L1644.8 80.4 L1646.6 80.7 L1648.4 81.0 L1650.0 81.3 L1651.5 81.5 L1652.9 81.7 L1654.4 81.9 L1655.8 82.0 L1657.2 82.1 L1658.7 82.2 L1660.2 82.2 L1661.7 82.2 L1663.3 82.1 L1664.9 82.0 L1666.6 81.9 L1668.3 81.7 L1670.0 81.5 L1671.7 81.2 L1673.4 81.0 L1675.0 80.8 L1676.7 80.6 L1678.5 80.3 L1680.3 80.0 L1682.1 79.7 L1683.8 79.4 L1685.3 79.2 L1686.5 79.0 L1687.5 78.8 L1688.7 78.9 L1690.3 79.1 L1692.2 79.2 L1694.4 79.4 L1696.6 79.6 L1698.9 79.8 L1701.2 79.9 L1703.3 80.0 L1705.3 80.0 L1707.4 80.0 L1709.5 80.0 L1711.6 80.0 L1713.7 79.9 L1715.9 79.9 L1717.9 79.8 L1720.0 79.7 L1722.1 79.6 L1724.4 79.5 L1726.8 79.4 L1729.0 79.2 L1731.2 79.1 L1733.1 79.0 L1734.8 78.9 L1736.0 78.8 L1734.8 79.0 L1733.3 79.2 L1731.6 79.5 L1729.6 79.8 L1727.4 80.1 L1725.0 80.5 L1722.5 80.8 L1720.0 81.2 L1717.3 81.6 L1714.4 81.9 L1711.3 82.3 L1708.1 82.7 L1704.8 83.1 L1701.5 83.6 L1698.2 84.0 L1695.0 84.5 L1691.9 85.0 L1688.8 85.5 L1685.6 86.0 L1682.5 86.5 L1679.4 87.1 L1676.2 87.6 L1673.1 88.2 L1670.0 88.8 L1666.9 89.4 L1663.8 90.0 L1660.6 90.7 L1657.5 91.4 L1654.4 92.0 L1651.2 92.7 L1648.1 93.5 L1645.0 94.2 L1641.9 95.0 L1638.7 95.8 L1635.5 96.6 L1632.3 97.5 L1629.1 98.3 L1626.0 99.2 L1623.0 100.0 L1620.0 100.8 L1617.1 101.6 L1614.1 102.4 L1611.2 103.3 L1608.3 104.1 L1605.6 104.9 L1602.9 105.7 L1600.5 106.4 L1598.3 107.0 L1596.3 107.6 L1594.6 108.0 L1593.1 108.5 L1591.7 108.9 L1590.4 109.2 L1589.2 109.6 L1587.9 109.9 L1586.7 110.3 L1585.5 110.7 L1584.3 111.0 L1583.2 111.4 L1582.1 111.7 L1581.1 112.0 L1580.0 112.3 L1579.0 112.6 L1578.0 112.8 L1577.0 113.0 L1576.0 113.2 L1575.0 113.3 L1574.0 113.4 L1573.0 113.5 L1572.1 113.6 L1571.2 113.7 L1570.3 113.7 L1569.5 113.7 L1568.7 113.7 L1567.9 113.7 L1567.2 113.6 L1566.5 113.5 L1565.8 113.4 L1565.2 113.3 L1564.5 113.2 L1563.9 113.1 L1563.3 112.9 L1562.7 112.8 L1562.1 112.6 L1561.6 112.4 L1561.0 112.2 L1560.4 111.9 L1559.8 111.6 L1559.1 111.2 L1558.4 110.8 L1557.7 110.3 L1556.9 109.8 L1556.1 109.3 L1555.4 108.7 L1554.7 108.1 L1554.0 107.5 L1553.4 106.9 L1552.7 106.2 L1552.1 105.5 L1551.5 104.8 L1550.9 104.1 L1550.4 103.3 L1549.8 102.5 L1549.3 101.7 L1548.8 100.9 L1548.3 100.0 L1547.8 99.2 L1547.3 98.3 L1546.9 97.3 L1546.4 96.4 L1546.0 95.4 L1545.5 94.3 L1545.0 93.1 L1544.5 91.7 L1544.0 90.3 L1543.5 88.8 L1543.0 87.4 L1542.6 86.1 L1542.3 85.0 L1542.0 84.2 Z" fill="#FF0000"/>
</g>
<g transform="rotate(180 1515 291.3)">
<path d="M1541.7 78.8 L1735.0 78.8 L1735.0 78.8 L1734.5 78.9 L1733.8 79.1 L1733.0 79.3 L1732.2 79.5 L1731.2 79.7 L1730.2 80.0 L1729.3 80.2 L1728.3 80.5 L1727.3 80.8 L1726.3 81.1 L1725.3 81.4 L1724.2 81.7 L1723.2 82.1 L1722.1 82.5 L1721.0 82.9 L1720.0 83.3 L1719.0 83.7 L1717.9 84.2 L1716.9 84.7 L1715.9 85.2 L1714.8 85.7 L1713.8 86.3 L1712.7 86.9 L1711.7 87.5 L1710.7 88.1 L1709.6 88.8 L1708.6 89.5 L1707.5 90.2 L1706.4 90.9 L1705.4 91.7 L1704.3 92.5 L1703.3 93.3 L1702.3 94.1 L1701.2 95.0 L1700.2 95.9 L1699.1 96.8 L1698.1 97.8 L1697.1 98.8 L1696.0 99.8 L1695.0 100.8 L1693.9 101.9 L1692.9 103.0 L1691.8 104.2 L1690.7 105.4 L1689.6 106.6 L1688.6 107.8 L1687.6 108.9 L1686.7 110.0 L1685.9 111.0 L1685.1 112.0 L1684.3 113.0 L1683.6 114.0 L1682.9 114.9 L1682.3 115.7 L1681.6 116.4 L1681.0 117.0 L1680.4 117.5 L1679.9 117.9 L1679.4 118.2 L1678.9 118.5 L1678.4 118.6 L1677.9 118.7 L1677.3 118.7 L1676.7 118.7 L1676.0 118.6 L1675.2 118.3 L1674.4 118.0 L1673.5 117.6 L1672.6 117.1 L1671.7 116.7 L1670.9 116.2 L1670.0 115.8 L1669.2 115.4 L1668.3 115.0 L1667.5 114.5 L1666.6 114.1 L1665.8 113.6 L1665.0 113.2 L1664.1 112.8 L1663.3 112.5 L1662.5 112.2 L1661.6 111.9 L1660.8 111.6 L1660.0 111.4 L1659.2 111.2 L1658.4 111.0 L1657.5 110.9 L1656.7 110.8 L1655.9 110.8 L1655.1 110.8 L1654.3 110.8 L1653.6 110.9 L1652.8 111.0 L1651.9 111.2 L1651.0 111.4 L1650.0 111.7 L1648.9 112.1 L1647.7 112.5 L1646.5 113.1 L1645.2 113.7 L1643.9 114.3 L1642.6 114.8 L1641.3 115.4 L1640.0 115.8 L1638.8 116.2 L1637.5 116.5 L1636.2 116.8 L1635.0 117.1 L1633.8 117.4 L1632.5 117.6 L1631.2 117.7 L1630.0 117.8 L1628.8 117.8 L1627.5 117.8 L1626.2 117.7 L1625.0 117.6 L1623.8 117.4 L1622.5 117.2 L1621.2 117.0 L1620.0 116.7 L1618.8 116.4 L1617.5 116.1 L1616.3 115.7 L1615.1 115.3 L1613.9 114.9 L1612.6 114.4 L1611.3 113.9 L1610.0 113.3 L1608.6 112.6 L1607.0 111.8 L1605.3 111.0 L1603.6 110.1 L1602.0 109.2 L1600.6 108.4 L1599.4 107.8 L1598.5 107.3 L1586.7 110.0 L1565.0 112.8 L1555.2 104.6 L1549.3 97.6 L1544.7 88.3 Z" fill="#FFDADC"/>
<path d="M1542.0 84.2 L1542.2 84.6 L1542.4 85.1 L1542.7 85.8 L1543.0 86.5 L1543.4 87.2 L1543.7 88.0 L1544.1 88.8 L1544.5 89.6 L1544.9 90.4 L1545.3 91.2 L1545.8 92.1 L1546.2 93.0 L1546.7 93.9 L1547.2 94.8 L1547.7 95.7 L1548.2 96.6 L1548.7 97.5 L1549.3 98.4 L1549.9 99.3 L1550.4 100.2 L1551.0 101.1 L1551.6 101.9 L1552.2 102.6 L1552.8 103.2 L1553.4 103.7 L1553.9 104.2 L1554.5 104.5 L1555.1 104.9 L1555.7 105.1 L1556.2 105.3 L1556.9 105.5 L1557.5 105.6 L1558.2 105.7 L1558.8 105.7 L1559.5 105.7 L1560.2 105.7 L1560.9 105.6 L1561.7 105.4 L1562.5 105.1 L1563.3 104.8 L1564.2 104.4 L1565.2 103.8 L1566.3 103.3 L1567.3 102.6 L1568.4 101.9 L1569.5 101.1 L1570.5 100.3 L1571.5 99.5 L1572.4 98.6 L1573.3 97.7 L1574.2 96.7 L1575.1 95.7 L1575.9 94.7 L1576.7 93.6 L1577.5 92.6 L1578.3 91.7 L1579.0 90.8 L1579.7 89.9 L1580.4 89.1 L1581.0 88.3 L1581.6 87.4 L1582.3 86.6 L1582.9 85.8 L1583.5 85.0 L1584.2 84.2 L1584.8 83.3 L1585.5 82.4 L1586.2 81.5 L1586.9 80.6 L1587.4 79.9 L1587.9 79.3 L1588.3 78.8 L1589.1 79.2 L1590.1 79.8 L1591.2 80.4 L1592.6 81.2 L1594.0 81.9 L1595.4 82.6 L1596.9 83.2 L1598.3 83.7 L1599.7 84.1 L1601.1 84.4 L1602.5 84.7 L1603.9 84.9 L1605.4 85.1 L1606.9 85.2 L1608.4 85.3 L1610.0 85.3 L1611.6 85.2 L1613.2 85.1 L1614.8 84.9 L1616.5 84.7 L1618.2 84.4 L1619.9 84.1 L1621.6 83.7 L1623.3 83.3 L1625.1 82.8 L1627.1 82.2 L1629.2 81.6 L1631.2 80.9 L1633.2 80.3 L1634.9 79.7 L1636.4 79.2 L1637.5 78.8 L1638.5 79.0 L1639.8 79.3 L1641.3 79.6 L1643.0 80.0 L1644.8 80.4 L1646.6 80.7 L1648.4 81.0 L1650.0 81.3 L1651.5 81.5 L1652.9 81.7 L1654.4 81.9 L1655.8 82.0 L1657.2 82.1 L1658.7 82.2 L1660.2 82.2 L1661.7 82.2 L1663.3 82.1 L1664.9 82.0 L1666.6 81.9 L1668.3 81.7 L1670.0 81.5 L1671.7 81.2 L1673.4 81.0 L1675.0 80.8 L1676.7 80.6 L1678.5 80.3 L1680.3 80.0 L1682.1 79.7 L1683.8 79.4 L1685.3 79.2 L1686.5 79.0 L1687.5 78.8 L1688.7 78.9 L1690.3 79.1 L1692.2 79.2 L1694.4 79.4 L1696.6 79.6 L1698.9 79.8 L1701.2 79.9 L1703.3 80.0 L1705.3 80.0 L1707.4 80.0 L1709.5 80.0 L1711.6 80.0 L1713.7 79.9 L1715.9 79.9 L1717.9 79.8 L1720.0 79.7 L1722.1 79.6 L1724.4 79.5 L1726.8 79.4 L1729.0 79.2 L1731.2 79.1 L1733.1 79.0 L1734.8 78.9 L1736.0 78.8 L1734.8 79.0 L1733.3 79.2 L1731.6 79.5 L1729.6 79.8 L1727.4 80.1 L1725.0 80.5 L1722.5 80.8 L1720.0 81.2 L1717.3 81.6 L1714.4 81.9 L1711.3 82.3 L1708.1 82.7 L1704.8 83.1 L1701.5 83.6 L1698.2 84.0 L1695.0 84.5 L1691.9 85.0 L1688.8 85.5 L1685.6 86.0 L1682.5 86.5 L1679.4 87.1 L1676.2 87.6 L1673.1 88.2 L1670.0 88.8 L1666.9 89.4 L1663.8 90.0 L1660.6 90.7 L1657.5 91.4 L1654.4 92.0 L1651.2 92.7 L1648.1 93.5 L1645.0 94.2 L1641.9 95.0 L1638.7 95.8 L1635.5 96.6 L1632.3 97.5 L1629.1 98.3 L1626.0 99.2 L1623.0 100.0 L1620.0 100.8 L1617.1 101.6 L1614.1 102.4 L1611.2 103.3 L1608.3 104.1 L1605.6 104.9 L1602.9 105.7 L1600.5 106.4 L1598.3 107.0 L1596.3 107.6 L1594.6 108.0 L1593.1 108.5 L1591.7 108.9 L1590.4 109.2 L1589.2 109.6 L1587.9 109.9 L1586.7 110.3 L1585.5 110.7 L1584.3 111.0 L1583.2 111.4 L1582.1 111.7 L1581.1 112.0 L1580.0 112.3 L1579.0 112.6 L1578.0 112.8 L1577.0 113.0 L1576.0 113.2 L1575.0 113.3 L1574.0 113.4 L1573.0 113.5 L1572.1 113.6 L1571.2 113.7 L1570.3 113.7 L1569.5 113.7 L1568.7 113.7 L1567.9 113.7 L1567.2 113.6 L1566.5 113.5 L1565.8 113.4 L1565.2 113.3 L1564.5 113.2 L1563.9 113.1 L1563.3 112.9 L1562.7 112.8 L1562.1 112.6 L1561.6 112.4 L1561.0 112.2 L1560.4 111.9 L1559.8 111.6 L1559.1 111.2 L1558.4 110.8 L1557.7 110.3 L1556.9 109.8 L1556.1 109.3 L1555.4 108.7 L1554.7 108.1 L1554.0 107.5 L1553.4 106.9 L1552.7 106.2 L1552.1 105.5 L1551.5 104.8 L1550.9 104.1 L1550.4 103.3 L1549.8 102.5 L1549.3 101.7 L1548.8 100.9 L1548.3 100.0 L1547.8 99.2 L1547.3 98.3 L1546.9 97.3 L1546.4 96.4 L1546.0 95.4 L1545.5 94.3 L1545.0 93.1 L1544.5 91.7 L1544.0 90.3 L1543.5 88.8 L1543.0 87.4 L1542.6 86.1 L1542.3 85.0 L1542.0 84.2 Z" fill="#FF0000"/>
</g>
<path d="M1280.6 57.3 H1748.7 V525.8" fill="none" stroke="#3c3c3c" stroke-width="1.2"/>
<path d="M1280.6 56.7 V525.8 H1749" fill="none" stroke="#6e6e6e" stroke-width="1.5"/>
<path d="M1391.75 525.8 v-4.8" stroke="#444" stroke-width="1.1"/>
<path d="M1515 525.8 v-4.8" stroke="#444" stroke-width="1.1"/>
<path d="M1638.25 525.8 v-4.8" stroke="#444" stroke-width="1.1"/>
<path d="M1280.6 78.5 h5" stroke="#444" stroke-width="1.1"/>
<path d="M1280.6 291.3 h5" stroke="#444" stroke-width="1.1"/>
<path d="M1280.6 504.5 h5" stroke="#444" stroke-width="1.1"/>
<text x="1392.55" y="560.6" font-family="Liberation Sans, Arial, sans-serif" font-size="31.5" text-anchor="middle" fill="#000">-5</text>
<text x="1515.8" y="560.6" font-family="Liberation Sans, Arial, sans-serif" font-size="31.5" text-anchor="middle" fill="#000">0</text>
<text x="1639.05" y="560.6" font-family="Liberation Sans, Arial, sans-serif" font-size="31.5" text-anchor="middle" fill="#000">5</text>
<text x="1275.2" y="88.1" font-family="Liberation Sans, Arial, sans-serif" font-size="31.5" letter-spacing="-0.5" text-anchor="end" fill="#000">0.5</text>
<text x="1273.9" y="301.8" font-family="Liberation Sans, Arial, sans-serif" font-size="31.5" letter-spacing="-0.5" text-anchor="end" fill="#000">0</text>
<text x="1275.2" y="514" font-family="Liberation Sans, Arial, sans-serif" font-size="31.5" letter-spacing="-0.5" text-anchor="end" fill="#000">-0.5</text>
<text x="1515.5" y="592.5" font-family="Liberation Sans, Arial, sans-serif" font-size="30.3" text-anchor="middle" fill="#000">Re(E)</text>
<rect x="1302.7" y="76.8" width="31.3" height="28.5" fill="#FF0000"/>
<rect x="1404.8" y="76.8" width="31.3" height="28.5" fill="#FFDADC"/>
<text x="1342" y="97" font-family="Liberation Serif, Times New Roman, serif" font-style="italic" font-size="27" fill="#231815">σ</text>
<text x="1357.7" y="87.4" font-family="Liberation Sans, Arial, sans-serif" font-size="20" fill="#231815">(1)</text>
<text x="1356.6" y="108" font-family="Liberation Sans, Arial, sans-serif" font-size="21.6" fill="#231815">U</text>
<text x="1444.5" y="97" font-family="Liberation Serif, Times New Roman, serif" font-style="italic" font-size="27" fill="#231815">σ</text>
<text x="1460.2" y="87.4" font-family="Liberation Sans, Arial, sans-serif" font-size="20" fill="#231815">(4)</text>
<text x="1459.1" y="108" font-family="Liberation Sans, Arial, sans-serif" font-size="21.6" fill="#231815">U</text>
<rect x="1365.5" y="217.5" width="353.29999999999995" height="133.0" fill="none" stroke="#3a3a3a" stroke-width="1.2"/>
<clipPath id="ic"><rect x="1366.1" y="216.7" width="352.09999999999997" height="133.0"/></clipPath>
<g clip-path="url(#ic)">
<path d="M1371.0 322.3 L1371.9 321.5 L1373.0 320.4 L1374.3 319.2 L1375.8 317.7 L1377.4 316.3 L1379.0 314.8 L1380.6 313.3 L1382.0 312.0 L1383.4 310.8 L1384.7 309.5 L1386.1 308.3 L1387.4 307.1 L1388.7 306.0 L1390.0 304.8 L1391.3 303.6 L1392.5 302.5 L1393.7 301.4 L1394.8 300.3 L1395.8 299.3 L1396.8 298.2 L1397.9 297.2 L1398.9 296.1 L1399.9 295.1 L1401.0 294.0 L1402.1 292.9 L1403.2 291.8 L1404.4 290.7 L1405.6 289.6 L1406.7 288.4 L1407.8 287.3 L1408.9 286.2 L1410.0 285.0 L1411.0 283.8 L1412.0 282.7 L1412.9 281.5 L1413.8 280.3 L1414.8 279.2 L1415.7 278.0 L1416.6 276.7 L1417.5 275.5 L1418.5 274.2 L1419.4 272.9 L1420.4 271.5 L1421.4 270.2 L1422.4 268.8 L1423.3 267.5 L1424.2 266.2 L1425.0 265.0 L1425.7 263.8 L1426.4 262.7 L1427.1 261.7 L1427.7 260.7 L1428.2 259.6 L1428.8 258.6 L1429.4 257.6 L1430.0 256.5 L1430.6 255.4 L1431.3 254.2 L1431.9 253.1 L1432.6 251.9 L1433.2 250.8 L1433.8 249.7 L1434.4 248.6 L1435.0 247.5 L1435.6 246.5 L1436.1 245.5 L1436.6 244.6 L1437.1 243.7 L1437.6 242.7 L1438.1 241.8 L1438.5 240.9 L1439.0 240.0 L1439.5 239.1 L1439.9 238.1 L1440.3 237.2 L1440.8 236.3 L1441.2 235.3 L1441.6 234.4 L1442.1 233.5 L1442.5 232.5 L1442.9 231.5 L1443.4 230.5 L1443.8 229.5 L1444.3 228.5 L1444.7 227.5 L1445.2 226.5 L1445.6 225.5 L1446.0 224.5 L1446.4 223.5 L1446.9 222.4 L1447.3 221.3 L1447.7 220.2 L1448.1 219.2 L1448.5 218.3 L1448.8 217.6 L1449.0 217.0 L1718.8 217.5 L1718.8 322.3 L1371.0 322.3 Z" fill="#FFDADC"/>
<path d="M1371.0 321.8 L1374.1 320.3 L1378.2 318.4 L1383.2 316.0 L1388.6 313.5 L1394.3 310.8 L1400.0 308.1 L1405.3 305.6 L1410.0 303.3 L1414.2 301.3 L1418.2 299.3 L1422.1 297.5 L1425.8 295.7 L1429.4 293.9 L1432.9 292.2 L1436.5 290.4 L1440.0 288.7 L1443.5 287.0 L1446.9 285.3 L1450.3 283.7 L1453.6 282.1 L1456.8 280.5 L1460.1 278.8 L1463.4 277.1 L1466.7 275.3 L1470.0 273.4 L1473.4 271.5 L1476.7 269.6 L1480.0 267.6 L1483.3 265.6 L1486.6 263.5 L1490.0 261.4 L1493.3 259.3 L1496.7 257.1 L1500.1 254.7 L1503.6 252.3 L1507.1 249.9 L1510.5 247.5 L1513.8 245.1 L1517.0 242.8 L1520.0 240.7 L1522.9 238.7 L1525.6 236.8 L1528.2 234.9 L1530.7 233.1 L1533.1 231.4 L1535.5 229.7 L1537.8 228.1 L1540.0 226.5 L1542.2 224.9 L1544.4 223.3 L1546.5 221.8 L1548.6 220.3 L1550.5 218.9 L1552.3 217.6 L1553.9 216.5 L1555.3 215.5 L1556.4 214.7 L1557.3 214.0 L1558.0 213.5 L1558.6 213.1 L1559.0 212.7 L1559.4 212.5 L1559.7 212.2 L1560.0 212.0 L1706.5 215.0 L1706.0 217.5 L1705.4 220.8 L1704.6 224.8 L1703.7 229.2 L1702.8 233.9 L1701.8 238.6 L1700.9 243.2 L1700.0 247.5 L1699.1 251.6 L1698.2 255.7 L1697.3 259.9 L1696.3 264.1 L1695.4 268.2 L1694.4 272.2 L1693.4 276.2 L1692.5 280.0 L1691.5 283.8 L1690.5 287.5 L1689.5 291.2 L1688.5 294.9 L1687.5 298.3 L1686.6 301.6 L1685.8 304.7 L1685.0 307.5 L1684.3 310.1 L1683.7 312.4 L1683.2 314.6 L1682.7 316.6 L1682.2 318.4 L1681.9 319.9 L1681.6 321.2 L1681.3 322.3 L1681.0 321.6 L1680.7 320.7 L1680.3 319.6 L1679.9 318.3 L1679.4 317.0 L1678.8 315.5 L1678.2 314.0 L1677.5 312.5 L1676.8 310.9 L1676.0 309.1 L1675.2 307.2 L1674.3 305.2 L1673.3 303.3 L1672.3 301.3 L1671.2 299.4 L1670.0 297.5 L1668.7 295.7 L1667.2 293.8 L1665.7 292.0 L1664.1 290.2 L1662.4 288.4 L1660.7 286.7 L1659.1 285.2 L1657.5 283.8 L1655.9 282.5 L1654.4 281.3 L1652.8 280.3 L1651.2 279.3 L1649.7 278.4 L1648.1 277.6 L1646.6 276.9 L1645.0 276.2 L1643.4 275.7 L1641.9 275.1 L1640.3 274.7 L1638.8 274.3 L1637.2 274.0 L1635.6 273.8 L1634.1 273.6 L1632.5 273.6 L1630.9 273.6 L1629.4 273.8 L1627.8 274.0 L1626.2 274.3 L1624.7 274.7 L1623.1 275.1 L1621.6 275.7 L1620.0 276.2 L1618.4 276.9 L1616.9 277.7 L1615.3 278.5 L1613.8 279.4 L1612.2 280.4 L1610.6 281.4 L1609.1 282.5 L1607.5 283.8 L1605.9 285.1 L1604.3 286.5 L1602.7 288.0 L1601.1 289.5 L1599.5 291.2 L1597.9 292.8 L1596.4 294.5 L1595.0 296.2 L1593.6 298.0 L1592.2 299.9 L1590.9 301.9 L1589.6 303.8 L1588.4 305.8 L1587.2 307.7 L1586.1 309.5 L1585.0 311.2 L1584.0 312.9 L1583.0 314.5 L1582.1 316.2 L1581.2 317.7 L1580.5 319.1 L1579.8 320.4 L1579.2 321.5 L1578.8 322.3 L1577.9 321.9 L1576.8 321.4 L1575.5 320.9 L1574.0 320.2 L1572.5 319.5 L1570.9 318.8 L1569.4 318.1 L1568.0 317.5 L1566.7 316.9 L1565.4 316.3 L1564.1 315.7 L1562.9 315.1 L1561.6 314.5 L1560.3 313.8 L1558.9 313.2 L1557.5 312.5 L1556.0 311.8 L1554.5 311.0 L1552.9 310.1 L1551.3 309.3 L1549.7 308.4 L1548.1 307.6 L1546.6 306.9 L1545.0 306.2 L1543.5 305.7 L1541.9 305.1 L1540.4 304.7 L1538.9 304.2 L1537.4 303.8 L1535.9 303.4 L1534.4 303.1 L1533.0 302.8 L1531.6 302.5 L1530.2 302.3 L1528.8 302.1 L1527.4 301.9 L1526.0 301.8 L1524.7 301.7 L1523.3 301.6 L1522.0 301.6 L1520.7 301.6 L1519.4 301.8 L1518.0 301.9 L1516.8 302.1 L1515.5 302.3 L1514.3 302.5 L1513.1 302.8 L1512.0 303.0 L1511.0 303.2 L1510.2 303.4 L1509.5 303.5 L1508.8 303.7 L1508.1 303.9 L1507.2 304.2 L1506.2 304.6 L1505.0 305.0 L1503.5 305.6 L1501.6 306.2 L1499.7 307.0 L1497.6 307.8 L1495.5 308.6 L1493.4 309.4 L1491.6 310.2 L1490.0 311.0 L1488.7 311.7 L1487.5 312.4 L1486.4 313.1 L1485.5 313.8 L1484.6 314.4 L1483.8 315.1 L1482.9 315.8 L1482.0 316.5 L1481.0 317.3 L1480.0 318.1 L1479.0 318.9 L1478.0 319.7 L1477.1 320.5 L1476.2 321.3 L1475.5 321.9 L1475.0 322.3 L1474.0 321.8 L1472.7 321.2 L1471.1 320.5 L1469.4 319.7 L1467.6 318.8 L1465.7 318.0 L1463.8 317.2 L1462.0 316.5 L1460.2 315.9 L1458.4 315.3 L1456.6 314.8 L1454.7 314.3 L1452.9 313.8 L1451.0 313.3 L1449.2 312.9 L1447.5 312.5 L1445.8 312.1 L1444.2 311.8 L1442.7 311.5 L1441.1 311.3 L1439.6 311.1 L1438.1 310.8 L1436.5 310.7 L1435.0 310.5 L1433.4 310.4 L1431.9 310.2 L1430.3 310.1 L1428.8 310.0 L1427.2 310.0 L1425.6 310.0 L1424.1 310.0 L1422.5 310.0 L1420.9 310.1 L1419.4 310.2 L1417.8 310.3 L1416.2 310.5 L1414.7 310.6 L1413.1 310.9 L1411.6 311.1 L1410.0 311.3 L1408.4 311.5 L1406.9 311.8 L1405.4 312.1 L1403.8 312.3 L1402.3 312.6 L1400.7 313.0 L1399.1 313.3 L1397.5 313.8 L1395.9 314.2 L1394.2 314.7 L1392.5 315.2 L1390.8 315.8 L1389.1 316.3 L1387.4 316.9 L1385.7 317.5 L1384.0 318.0 L1382.3 318.6 L1380.4 319.2 L1378.5 319.8 L1376.7 320.4 L1374.9 321.0 L1373.3 321.5 L1372.0 322.0 L1371.0 322.3 Z" fill="#FF0000"/>
</g>
<path d="M1423 350.5 v-4.5" stroke="#3a3a3a" stroke-width="1.2"/>
<path d="M1526.2 350.5 v-4.5" stroke="#3a3a3a" stroke-width="1.2"/>
<path d="M1629.5 350.5 v-4.5" stroke="#3a3a3a" stroke-width="1.2"/>
<path d="M1365.5 321.8 h4.5" stroke="#3a3a3a" stroke-width="1.2"/>
<text x="1417.5" y="375.6" font-family="Liberation Sans, Arial, sans-serif" font-size="22" text-anchor="middle" fill="#000">-8</text>
<text x="1520.7" y="375.6" font-family="Liberation Sans, Arial, sans-serif" font-size="22" text-anchor="middle" fill="#000">-6</text>
<text x="1624.0" y="375.6" font-family="Liberation Sans, Arial, sans-serif" font-size="22" text-anchor="middle" fill="#000">-4</text>
<text x="1358.3" y="328.3" font-family="Liberation Sans, Arial, sans-serif" font-size="22" text-anchor="end" fill="#000">-0.5</text>
<path d="M1500.8 264.1 L1502.0 267.5 L1505.7 267.6 L1502.8 269.9 L1503.8 273.5 L1500.8 271.4 L1497.7 273.5 L1498.7 269.9 L1495.8 267.6 L1499.5 267.5 Z" fill="#A6E0B4" stroke="#2E9B4E" stroke-width="1"/>
<path d="M1501.2 268.6 L1502.5 272.0 L1506.2 272.1 L1503.3 274.4 L1504.3 278.0 L1501.2 275.9 L1498.2 278.0 L1499.2 274.4 L1496.3 272.1 L1500.0 272.0 Z" fill="#A6E0B4" stroke="#2E9B4E" stroke-width="1"/>
<path d="M1501.2 272.8 L1502.5 276.2 L1506.2 276.4 L1503.3 278.7 L1504.3 282.2 L1501.2 280.2 L1498.2 282.2 L1499.2 278.7 L1496.3 276.4 L1500.0 276.2 Z" fill="#A6E0B4" stroke="#2E9B4E" stroke-width="1"/>
<path d="M1500.0 278.1 L1501.3 281.5 L1504.9 281.6 L1502.1 283.9 L1503.1 287.5 L1500.0 285.4 L1496.9 287.5 L1497.9 283.9 L1495.1 281.6 L1498.7 281.5 Z" fill="#A6E0B4" stroke="#2E9B4E" stroke-width="1"/>
<path d="M1503.8 288.1 L1505.0 291.5 L1508.7 291.6 L1505.8 293.9 L1506.8 297.5 L1503.8 295.4 L1500.7 297.5 L1501.7 293.9 L1498.8 291.6 L1502.5 291.5 Z" fill="#A6E0B4" stroke="#2E9B4E" stroke-width="1"/>
<path d="M1505.8 294.1 L1507.0 297.5 L1510.7 297.6 L1507.8 299.9 L1508.8 303.5 L1505.8 301.4 L1502.7 303.5 L1503.7 299.9 L1500.8 297.6 L1504.5 297.5 Z" fill="#A6E0B4" stroke="#2E9B4E" stroke-width="1"/>
<path d="M1509.5 292.8 L1510.8 296.2 L1514.4 296.4 L1511.6 298.7 L1512.6 302.2 L1509.5 300.2 L1506.4 302.2 L1507.4 298.7 L1504.6 296.4 L1508.2 296.2 Z" fill="#A6E0B4" stroke="#2E9B4E" stroke-width="1"/>
<path d="M1474.2 279.1 L1475.5 282.5 L1479.2 282.6 L1476.3 284.9 L1477.3 288.5 L1474.2 286.4 L1471.2 288.5 L1472.2 284.9 L1469.3 282.6 L1473.0 282.5 Z" fill="#A6E0B4" stroke="#2E9B4E" stroke-width="1"/>
<path d="M1475.5 286.8 L1476.8 290.2 L1480.4 290.4 L1477.6 292.7 L1478.6 296.2 L1475.5 294.2 L1472.4 296.2 L1473.4 292.7 L1470.6 290.4 L1474.2 290.2 Z" fill="#A6E0B4" stroke="#2E9B4E" stroke-width="1"/>
<path d="M1458.0 286.8 L1459.3 290.2 L1462.9 290.4 L1460.1 292.7 L1461.1 296.2 L1458.0 294.2 L1454.9 296.2 L1455.9 292.7 L1453.1 290.4 L1456.7 290.2 Z" fill="#A6E0B4" stroke="#2E9B4E" stroke-width="1"/>
<path d="M1462.0 286.8 L1463.3 290.2 L1466.9 290.4 L1464.1 292.7 L1465.1 296.2 L1462.0 294.2 L1458.9 296.2 L1459.9 292.7 L1457.1 290.4 L1460.7 290.2 Z" fill="#A6E0B4" stroke="#2E9B4E" stroke-width="1"/>
<path d="M1468.8 287.3 L1470.0 290.7 L1473.7 290.9 L1470.8 293.2 L1471.8 296.7 L1468.8 294.7 L1465.7 296.7 L1466.7 293.2 L1463.8 290.9 L1467.5 290.7 Z" fill="#A6E0B4" stroke="#2E9B4E" stroke-width="1"/>
<path d="M1529.0 276.8 L1530.3 280.2 L1533.9 280.4 L1531.1 282.7 L1532.1 286.2 L1529.0 284.2 L1525.9 286.2 L1526.9 282.7 L1524.1 280.4 L1527.7 280.2 Z" fill="#A6E0B4" stroke="#2E9B4E" stroke-width="1"/>
<path d="M1530.0 281.1 L1531.3 284.5 L1534.9 284.6 L1532.1 286.9 L1533.1 290.5 L1530.0 288.4 L1526.9 290.5 L1527.9 286.9 L1525.1 284.6 L1528.7 284.5 Z" fill="#A6E0B4" stroke="#2E9B4E" stroke-width="1"/>
<path d="M1561.2 218.6 L1562.5 222.0 L1566.2 222.1 L1563.3 224.4 L1564.3 228.0 L1561.2 225.9 L1558.2 228.0 L1559.2 224.4 L1556.3 222.1 L1560.0 222.0 Z" fill="#A6E0B4" stroke="#2E9B4E" stroke-width="1"/>
<path d="M1562.0 222.8 L1563.3 226.2 L1566.9 226.4 L1564.1 228.7 L1565.1 232.2 L1562.0 230.2 L1558.9 232.2 L1559.9 228.7 L1557.1 226.4 L1560.7 226.2 Z" fill="#A6E0B4" stroke="#2E9B4E" stroke-width="1"/>
<path d="M1563.0 229.1 L1564.3 232.5 L1567.9 232.6 L1565.1 234.9 L1566.1 238.5 L1563.0 236.4 L1559.9 238.5 L1560.9 234.9 L1558.1 232.6 L1561.7 232.5 Z" fill="#A6E0B4" stroke="#2E9B4E" stroke-width="1"/>
<path d="M1564.0 233.6 L1565.3 237.0 L1568.9 237.1 L1566.1 239.4 L1567.1 243.0 L1564.0 240.9 L1560.9 243.0 L1561.9 239.4 L1559.1 237.1 L1562.7 237.0 Z" fill="#A6E0B4" stroke="#2E9B4E" stroke-width="1"/>
<path d="M1565.0 238.6 L1566.3 242.0 L1569.9 242.1 L1567.1 244.4 L1568.1 248.0 L1565.0 245.9 L1561.9 248.0 L1562.9 244.4 L1560.1 242.1 L1563.7 242.0 Z" fill="#A6E0B4" stroke="#2E9B4E" stroke-width="1"/>
<path d="M1569.2 258.6 L1570.5 262.0 L1574.2 262.1 L1571.3 264.4 L1572.3 268.0 L1569.2 265.9 L1566.2 268.0 L1567.2 264.4 L1564.3 262.1 L1568.0 262.0 Z" fill="#A6E0B4" stroke="#2E9B4E" stroke-width="1"/>
<path d="M1569.5 264.1 L1570.8 267.5 L1574.4 267.6 L1571.6 269.9 L1572.6 273.5 L1569.5 271.4 L1566.4 273.5 L1567.4 269.9 L1564.6 267.6 L1568.2 267.5 Z" fill="#A6E0B4" stroke="#2E9B4E" stroke-width="1"/>
<path d="M1570.0 268.1 L1571.3 271.5 L1574.9 271.6 L1572.1 273.9 L1573.1 277.5 L1570.0 275.4 L1566.9 277.5 L1567.9 273.9 L1565.1 271.6 L1568.7 271.5 Z" fill="#A6E0B4" stroke="#2E9B4E" stroke-width="1"/>
<path d="M1570.8 272.3 L1572.0 275.7 L1575.7 275.9 L1572.8 278.2 L1573.8 281.7 L1570.8 279.7 L1567.7 281.7 L1568.7 278.2 L1565.8 275.9 L1569.5 275.7 Z" fill="#A6E0B4" stroke="#2E9B4E" stroke-width="1"/>
<path d="M1573.2 287.3 L1574.5 290.7 L1578.2 290.9 L1575.3 293.2 L1576.3 296.7 L1573.2 294.7 L1570.2 296.7 L1571.2 293.2 L1568.3 290.9 L1572.0 290.7 Z" fill="#A6E0B4" stroke="#2E9B4E" stroke-width="1"/>
<path d="M1574.0 290.6 L1575.3 294.0 L1578.9 294.1 L1576.1 296.4 L1577.1 300.0 L1574.0 297.9 L1570.9 300.0 L1571.9 296.4 L1569.1 294.1 L1572.7 294.0 Z" fill="#A6E0B4" stroke="#2E9B4E" stroke-width="1"/>
<path d="M1575.0 294.8 L1576.3 298.2 L1579.9 298.4 L1577.1 300.7 L1578.1 304.2 L1575.0 302.2 L1571.9 304.2 L1572.9 300.7 L1570.1 298.4 L1573.7 298.2 Z" fill="#A6E0B4" stroke="#2E9B4E" stroke-width="1"/>
<path d="M1576.2 302.3 L1577.5 305.7 L1581.2 305.9 L1578.3 308.2 L1579.3 311.7 L1576.2 309.7 L1573.2 311.7 L1574.2 308.2 L1571.3 305.9 L1575.0 305.7 Z" fill="#A6E0B4" stroke="#2E9B4E" stroke-width="1"/>
<path d="M1577.0 307.3 L1578.3 310.7 L1581.9 310.9 L1579.1 313.2 L1580.1 316.7 L1577.0 314.7 L1573.9 316.7 L1574.9 313.2 L1572.1 310.9 L1575.7 310.7 Z" fill="#A6E0B4" stroke="#2E9B4E" stroke-width="1"/>
<path d="M1577.5 309.8 L1578.8 313.2 L1582.4 313.4 L1579.6 315.7 L1580.6 319.2 L1577.5 317.2 L1574.4 319.2 L1575.4 315.7 L1572.6 313.4 L1576.2 313.2 Z" fill="#A6E0B4" stroke="#2E9B4E" stroke-width="1"/>
<path d="M1637.5 257.3 L1638.8 260.7 L1642.4 260.9 L1639.6 263.2 L1640.6 266.7 L1637.5 264.7 L1634.4 266.7 L1635.4 263.2 L1632.6 260.9 L1636.2 260.7 Z" fill="#A6E0B4" stroke="#2E9B4E" stroke-width="1"/>
<path d="M1638.0 261.8 L1639.3 265.2 L1642.9 265.4 L1640.1 267.7 L1641.1 271.2 L1638.0 269.2 L1634.9 271.2 L1635.9 267.7 L1633.1 265.4 L1636.7 265.2 Z" fill="#A6E0B4" stroke="#2E9B4E" stroke-width="1"/>
<path d="M1638.5 266.1 L1639.8 269.5 L1643.4 269.6 L1640.6 271.9 L1641.6 275.5 L1638.5 273.4 L1635.4 275.5 L1636.4 271.9 L1633.6 269.6 L1637.2 269.5 Z" fill="#A6E0B4" stroke="#2E9B4E" stroke-width="1"/>
<path d="M1639.2 276.1 L1640.5 279.5 L1644.2 279.6 L1641.3 281.9 L1642.3 285.5 L1639.2 283.4 L1636.2 285.5 L1637.2 281.9 L1634.3 279.6 L1638.0 279.5 Z" fill="#A6E0B4" stroke="#2E9B4E" stroke-width="1"/>
<path d="M1640.8 277.8 L1642.0 281.2 L1645.7 281.4 L1642.8 283.7 L1643.8 287.2 L1640.8 285.2 L1637.7 287.2 L1638.7 283.7 L1635.8 281.4 L1639.5 281.2 Z" fill="#A6E0B4" stroke="#2E9B4E" stroke-width="1"/>
<path d="M1640.0 281.1 L1641.3 284.5 L1644.9 284.6 L1642.1 286.9 L1643.1 290.5 L1640.0 288.4 L1636.9 290.5 L1637.9 286.9 L1635.1 284.6 L1638.7 284.5 Z" fill="#A6E0B4" stroke="#2E9B4E" stroke-width="1"/>
<path d="M1641.8 284.8 L1643.0 288.2 L1646.7 288.4 L1643.8 290.7 L1644.8 294.2 L1641.8 292.2 L1638.7 294.2 L1639.7 290.7 L1636.8 288.4 L1640.5 288.2 Z" fill="#A6E0B4" stroke="#2E9B4E" stroke-width="1"/>
<path d="M1645.8 283.6 L1647.0 287.0 L1650.7 287.1 L1647.8 289.4 L1648.8 293.0 L1645.8 290.9 L1642.7 293.0 L1643.7 289.4 L1640.8 287.1 L1644.5 287.0 Z" fill="#A6E0B4" stroke="#2E9B4E" stroke-width="1"/>
<path d="M1665.8 253.6 L1667.0 257.0 L1670.7 257.1 L1667.8 259.4 L1668.8 263.0 L1665.8 260.9 L1662.7 263.0 L1663.7 259.4 L1660.8 257.1 L1664.5 257.0 Z" fill="#A6E0B4" stroke="#2E9B4E" stroke-width="1"/>
<path d="M1667.5 263.6 L1668.8 267.0 L1672.4 267.1 L1669.6 269.4 L1670.6 273.0 L1667.5 270.9 L1664.4 273.0 L1665.4 269.4 L1662.6 267.1 L1666.2 267.0 Z" fill="#A6E0B4" stroke="#2E9B4E" stroke-width="1"/>
<path d="M1668.0 267.3 L1669.3 270.7 L1672.9 270.9 L1670.1 273.2 L1671.1 276.7 L1668.0 274.7 L1664.9 276.7 L1665.9 273.2 L1663.1 270.9 L1666.7 270.7 Z" fill="#A6E0B4" stroke="#2E9B4E" stroke-width="1"/>
<path d="M1680.8 257.3 L1682.0 260.7 L1685.7 260.9 L1682.8 263.2 L1683.8 266.7 L1680.8 264.7 L1677.7 266.7 L1678.7 263.2 L1675.8 260.9 L1679.5 260.7 Z" fill="#A6E0B4" stroke="#2E9B4E" stroke-width="1"/>
<path d="M1685.0 258.6 L1686.3 262.0 L1689.9 262.1 L1687.1 264.4 L1688.1 268.0 L1685.0 265.9 L1681.9 268.0 L1682.9 264.4 L1680.1 262.1 L1683.7 262.0 Z" fill="#A6E0B4" stroke="#2E9B4E" stroke-width="1"/>
<path d="M1612.5 267.3 L1613.8 270.7 L1617.4 270.9 L1614.6 273.2 L1615.6 276.7 L1612.5 274.7 L1609.4 276.7 L1610.4 273.2 L1607.6 270.9 L1611.2 270.7 Z" fill="#A6E0B4" stroke="#2E9B4E" stroke-width="1"/>
<path d="M1606.2 274.8 L1607.5 278.2 L1611.2 278.4 L1608.3 280.7 L1609.3 284.2 L1606.2 282.2 L1603.2 284.2 L1604.2 280.7 L1601.3 278.4 L1605.0 278.2 Z" fill="#A6E0B4" stroke="#2E9B4E" stroke-width="1"/>
<path d="M1454.5 286.4 L1455.9 290.1 L1459.8 290.3 L1456.7 292.7 L1457.8 296.5 L1454.5 294.4 L1451.2 296.5 L1452.3 292.7 L1449.2 290.3 L1453.1 290.1 Z" fill="#A6E0B4" stroke="#2E9B4E" stroke-width="1"/>
<path d="M1461.2 285.6 L1462.6 289.3 L1466.6 289.5 L1463.5 292.0 L1464.5 295.8 L1461.2 293.6 L1458.0 295.8 L1459.0 292.0 L1455.9 289.5 L1459.9 289.3 Z" fill="#A6E0B4" stroke="#2E9B4E" stroke-width="1"/>
<path d="M1467.5 284.9 L1468.9 288.6 L1472.8 288.8 L1469.7 291.2 L1470.8 295.0 L1467.5 292.9 L1464.2 295.0 L1465.3 291.2 L1462.2 288.8 L1466.1 288.6 Z" fill="#A6E0B4" stroke="#2E9B4E" stroke-width="1"/>
<path d="M1474.2 277.4 L1475.6 281.1 L1479.6 281.3 L1476.5 283.7 L1477.5 287.5 L1474.2 285.4 L1471.0 287.5 L1472.0 283.7 L1468.9 281.3 L1472.9 281.1 Z" fill="#A6E0B4" stroke="#2E9B4E" stroke-width="1"/>
<path d="M1477.5 288.1 L1478.9 291.8 L1482.8 292.0 L1479.7 294.5 L1480.8 298.3 L1477.5 296.1 L1474.2 298.3 L1475.3 294.5 L1472.2 292.0 L1476.1 291.8 Z" fill="#A6E0B4" stroke="#2E9B4E" stroke-width="1"/>
<path d="M1500.8 262.4 L1502.1 266.1 L1506.1 266.3 L1503.0 268.7 L1504.0 272.5 L1500.8 270.4 L1497.5 272.5 L1498.5 268.7 L1495.4 266.3 L1499.4 266.1 Z" fill="#A6E0B4" stroke="#2E9B4E" stroke-width="1"/>
<path d="M1501.8 269.9 L1503.1 273.6 L1507.1 273.8 L1504.0 276.2 L1505.0 280.0 L1501.8 277.9 L1498.5 280.0 L1499.5 276.2 L1496.4 273.8 L1500.4 273.6 Z" fill="#A6E0B4" stroke="#2E9B4E" stroke-width="1"/>
<path d="M1498.8 276.9 L1500.1 280.6 L1504.1 280.8 L1501.0 283.2 L1502.0 287.0 L1498.8 284.9 L1495.5 287.0 L1496.5 283.2 L1493.4 280.8 L1497.4 280.6 Z" fill="#A6E0B4" stroke="#2E9B4E" stroke-width="1"/>
<path d="M1502.5 286.9 L1503.9 290.6 L1507.8 290.8 L1504.7 293.2 L1505.8 297.0 L1502.5 294.9 L1499.2 297.0 L1500.3 293.2 L1497.2 290.8 L1501.1 290.6 Z" fill="#A6E0B4" stroke="#2E9B4E" stroke-width="1"/>
<path d="M1505.0 294.4 L1506.4 298.1 L1510.3 298.3 L1507.2 300.7 L1508.3 304.5 L1505.0 302.4 L1501.7 304.5 L1502.8 300.7 L1499.7 298.3 L1503.6 298.1 Z" fill="#A6E0B4" stroke="#2E9B4E" stroke-width="1"/>
<path d="M1510.0 293.1 L1511.4 296.8 L1515.3 297.0 L1512.2 299.5 L1513.3 303.3 L1510.0 301.1 L1506.7 303.3 L1507.8 299.5 L1504.7 297.0 L1508.6 296.8 Z" fill="#A6E0B4" stroke="#2E9B4E" stroke-width="1"/>
<path d="M1516.2 286.9 L1517.6 290.6 L1521.6 290.8 L1518.5 293.2 L1519.5 297.0 L1516.2 294.9 L1513.0 297.0 L1514.0 293.2 L1510.9 290.8 L1514.9 290.6 Z" fill="#A6E0B4" stroke="#2E9B4E" stroke-width="1"/>
<path d="M1527.0 278.1 L1528.4 281.8 L1532.3 282.0 L1529.2 284.5 L1530.3 288.3 L1527.0 286.1 L1523.7 288.3 L1524.8 284.5 L1521.7 282.0 L1525.6 281.8 Z" fill="#A6E0B4" stroke="#2E9B4E" stroke-width="1"/>
<path d="M1539.5 268.9 L1540.9 272.6 L1544.8 272.8 L1541.7 275.2 L1542.8 279.0 L1539.5 276.9 L1536.2 279.0 L1537.3 275.2 L1534.2 272.8 L1538.1 272.6 Z" fill="#A6E0B4" stroke="#2E9B4E" stroke-width="1"/>
<path d="M1561.2 220.7 L1562.6 224.3 L1566.6 224.5 L1563.5 227.0 L1564.5 230.8 L1561.2 228.6 L1558.0 230.8 L1559.0 227.0 L1555.9 224.5 L1559.9 224.3 Z" fill="#A6E0B4" stroke="#2E9B4E" stroke-width="1"/>
<path d="M1563.8 230.7 L1565.1 234.3 L1569.1 234.5 L1566.0 237.0 L1567.0 240.8 L1563.8 238.6 L1560.5 240.8 L1561.5 237.0 L1558.4 234.5 L1562.4 234.3 Z" fill="#A6E0B4" stroke="#2E9B4E" stroke-width="1"/>
<path d="M1568.8 254.4 L1570.1 258.1 L1574.1 258.3 L1571.0 260.7 L1572.0 264.5 L1568.8 262.4 L1565.5 264.5 L1566.5 260.7 L1563.4 258.3 L1567.4 258.1 Z" fill="#A6E0B4" stroke="#2E9B4E" stroke-width="1"/>
<path d="M1569.2 263.1 L1570.6 266.8 L1574.6 267.0 L1571.5 269.5 L1572.5 273.3 L1569.2 271.1 L1566.0 273.3 L1567.0 269.5 L1563.9 267.0 L1567.9 266.8 Z" fill="#A6E0B4" stroke="#2E9B4E" stroke-width="1"/>
<path d="M1570.8 273.1 L1572.1 276.8 L1576.1 277.0 L1573.0 279.5 L1574.0 283.3 L1570.8 281.1 L1567.5 283.3 L1568.5 279.5 L1565.4 277.0 L1569.4 276.8 Z" fill="#A6E0B4" stroke="#2E9B4E" stroke-width="1"/>
<path d="M1541.2 268.1 L1542.6 271.8 L1546.6 272.0 L1543.5 274.5 L1544.5 278.3 L1541.2 276.1 L1538.0 278.3 L1539.0 274.5 L1535.9 272.0 L1539.9 271.8 Z" fill="#A6E0B4" stroke="#2E9B4E" stroke-width="1"/>
<path d="M1575.5 300.6 L1576.9 304.3 L1580.8 304.5 L1577.7 307.0 L1578.8 310.8 L1575.5 308.6 L1572.2 310.8 L1573.3 307.0 L1570.2 304.5 L1574.1 304.3 Z" fill="#A6E0B4" stroke="#2E9B4E" stroke-width="1"/>
<path d="M1578.2 316.9 L1579.6 320.6 L1583.6 320.8 L1580.5 323.2 L1581.5 327.0 L1578.2 324.9 L1575.0 327.0 L1576.0 323.2 L1572.9 320.8 L1576.9 320.6 Z" fill="#A6E0B4" stroke="#2E9B4E" stroke-width="1"/>
<path d="M1600.8 280.6 L1602.1 284.3 L1606.1 284.5 L1603.0 287.0 L1604.0 290.8 L1600.8 288.6 L1597.5 290.8 L1598.5 287.0 L1595.4 284.5 L1599.4 284.3 Z" fill="#A6E0B4" stroke="#2E9B4E" stroke-width="1"/>
<path d="M1612.5 265.6 L1613.9 269.3 L1617.8 269.5 L1614.7 272.0 L1615.8 275.8 L1612.5 273.6 L1609.2 275.8 L1610.3 272.0 L1607.2 269.5 L1611.1 269.3 Z" fill="#A6E0B4" stroke="#2E9B4E" stroke-width="1"/>
<path d="M1625.0 249.4 L1626.4 253.1 L1630.3 253.3 L1627.2 255.7 L1628.3 259.5 L1625.0 257.4 L1621.7 259.5 L1622.8 255.7 L1619.7 253.3 L1623.6 253.1 Z" fill="#A6E0B4" stroke="#2E9B4E" stroke-width="1"/>
<path d="M1637.5 253.2 L1638.9 256.8 L1642.8 257.0 L1639.7 259.5 L1640.8 263.3 L1637.5 261.1 L1634.2 263.3 L1635.3 259.5 L1632.2 257.0 L1636.1 256.8 Z" fill="#A6E0B4" stroke="#2E9B4E" stroke-width="1"/>
<path d="M1637.0 264.4 L1638.4 268.1 L1642.3 268.3 L1639.2 270.7 L1640.3 274.5 L1637.0 272.4 L1633.7 274.5 L1634.8 270.7 L1631.7 268.3 L1635.6 268.1 Z" fill="#A6E0B4" stroke="#2E9B4E" stroke-width="1"/>
<path d="M1639.5 276.9 L1640.9 280.6 L1644.8 280.8 L1641.7 283.2 L1642.8 287.0 L1639.5 284.9 L1636.2 287.0 L1637.3 283.2 L1634.2 280.8 L1638.1 280.6 Z" fill="#A6E0B4" stroke="#2E9B4E" stroke-width="1"/>
<path d="M1642.5 285.6 L1643.9 289.3 L1647.8 289.5 L1644.7 292.0 L1645.8 295.8 L1642.5 293.6 L1639.2 295.8 L1640.3 292.0 L1637.2 289.5 L1641.1 289.3 Z" fill="#A6E0B4" stroke="#2E9B4E" stroke-width="1"/>
<path d="M1647.5 283.1 L1648.9 286.8 L1652.8 287.0 L1649.7 289.5 L1650.8 293.3 L1647.5 291.1 L1644.2 293.3 L1645.3 289.5 L1642.2 287.0 L1646.1 286.8 Z" fill="#A6E0B4" stroke="#2E9B4E" stroke-width="1"/>
<path d="M1665.8 249.4 L1667.1 253.1 L1671.1 253.3 L1668.0 255.7 L1669.0 259.5 L1665.8 257.4 L1662.5 259.5 L1663.5 255.7 L1660.4 253.3 L1664.4 253.1 Z" fill="#A6E0B4" stroke="#2E9B4E" stroke-width="1"/>
<path d="M1667.5 265.6 L1668.9 269.3 L1672.8 269.5 L1669.7 272.0 L1670.8 275.8 L1667.5 273.6 L1664.2 275.8 L1665.3 272.0 L1662.2 269.5 L1666.1 269.3 Z" fill="#A6E0B4" stroke="#2E9B4E" stroke-width="1"/>
<path d="M1678.8 258.9 L1680.1 262.6 L1684.1 262.8 L1681.0 265.2 L1682.0 269.0 L1678.8 266.9 L1675.5 269.0 L1676.5 265.2 L1673.4 262.8 L1677.4 262.6 Z" fill="#A6E0B4" stroke="#2E9B4E" stroke-width="1"/>
<path d="M1687.0 255.7 L1688.4 259.3 L1692.3 259.5 L1689.2 262.0 L1690.3 265.8 L1687.0 263.6 L1683.7 265.8 L1684.8 262.0 L1681.7 259.5 L1685.6 259.3 Z" fill="#A6E0B4" stroke="#2E9B4E" stroke-width="1"/>
<circle cx="1458.0" cy="292.0" r="2.9" fill="#CFCBFF" stroke="#1010F0" stroke-width="1"/>
<circle cx="1462.0" cy="292.0" r="2.9" fill="#CFCBFF" stroke="#1010F0" stroke-width="1"/>
<circle cx="1468.8" cy="292.5" r="2.9" fill="#CFCBFF" stroke="#1010F0" stroke-width="1"/>
<circle cx="1474.2" cy="284.2" r="2.9" fill="#CFCBFF" stroke="#1010F0" stroke-width="1"/>
<circle cx="1475.5" cy="292.0" r="2.9" fill="#CFCBFF" stroke="#1010F0" stroke-width="1"/>
<circle cx="1476.2" cy="295.0" r="2.9" fill="#CFCBFF" stroke="#1010F0" stroke-width="1"/>
<circle cx="1488.0" cy="295.0" r="2.9" fill="#CFCBFF" stroke="#1010F0" stroke-width="1"/>
<circle cx="1500.8" cy="269.2" r="2.9" fill="#CFCBFF" stroke="#1010F0" stroke-width="1"/>
<circle cx="1501.2" cy="273.8" r="2.9" fill="#CFCBFF" stroke="#1010F0" stroke-width="1"/>
<circle cx="1501.2" cy="278.0" r="2.9" fill="#CFCBFF" stroke="#1010F0" stroke-width="1"/>
<circle cx="1500.0" cy="283.2" r="2.9" fill="#CFCBFF" stroke="#1010F0" stroke-width="1"/>
<circle cx="1503.8" cy="293.2" r="2.9" fill="#CFCBFF" stroke="#1010F0" stroke-width="1"/>
<circle cx="1505.8" cy="299.2" r="2.9" fill="#CFCBFF" stroke="#1010F0" stroke-width="1"/>
<circle cx="1509.5" cy="298.0" r="2.9" fill="#CFCBFF" stroke="#1010F0" stroke-width="1"/>
<circle cx="1520.0" cy="301.2" r="2.9" fill="#CFCBFF" stroke="#1010F0" stroke-width="1"/>
<circle cx="1529.0" cy="282.0" r="2.9" fill="#CFCBFF" stroke="#1010F0" stroke-width="1"/>
<circle cx="1530.0" cy="286.2" r="2.9" fill="#CFCBFF" stroke="#1010F0" stroke-width="1"/>
<circle cx="1535.0" cy="286.2" r="2.9" fill="#CFCBFF" stroke="#1010F0" stroke-width="1"/>
<circle cx="1537.5" cy="283.8" r="2.9" fill="#CFCBFF" stroke="#1010F0" stroke-width="1"/>
<circle cx="1561.2" cy="223.8" r="2.9" fill="#CFCBFF" stroke="#1010F0" stroke-width="1"/>
<circle cx="1562.0" cy="228.0" r="2.9" fill="#CFCBFF" stroke="#1010F0" stroke-width="1"/>
<circle cx="1563.0" cy="234.2" r="2.9" fill="#CFCBFF" stroke="#1010F0" stroke-width="1"/>
<circle cx="1564.0" cy="238.8" r="2.9" fill="#CFCBFF" stroke="#1010F0" stroke-width="1"/>
<circle cx="1565.0" cy="243.8" r="2.9" fill="#CFCBFF" stroke="#1010F0" stroke-width="1"/>
<circle cx="1565.8" cy="248.0" r="2.9" fill="#CFCBFF" stroke="#1010F0" stroke-width="1"/>
<circle cx="1569.2" cy="263.8" r="2.9" fill="#CFCBFF" stroke="#1010F0" stroke-width="1"/>
<circle cx="1569.5" cy="269.2" r="2.9" fill="#CFCBFF" stroke="#1010F0" stroke-width="1"/>
<circle cx="1570.0" cy="273.2" r="2.9" fill="#CFCBFF" stroke="#1010F0" stroke-width="1"/>
<circle cx="1570.8" cy="277.5" r="2.9" fill="#CFCBFF" stroke="#1010F0" stroke-width="1"/>
<circle cx="1528.8" cy="282.5" r="2.9" fill="#CFCBFF" stroke="#1010F0" stroke-width="1"/>
<circle cx="1529.5" cy="286.8" r="2.9" fill="#CFCBFF" stroke="#1010F0" stroke-width="1"/>
<circle cx="1534.5" cy="286.2" r="2.9" fill="#CFCBFF" stroke="#1010F0" stroke-width="1"/>
<circle cx="1537.0" cy="284.2" r="2.9" fill="#CFCBFF" stroke="#1010F0" stroke-width="1"/>
<circle cx="1573.2" cy="292.5" r="2.9" fill="#CFCBFF" stroke="#1010F0" stroke-width="1"/>
<circle cx="1574.0" cy="295.8" r="2.9" fill="#CFCBFF" stroke="#1010F0" stroke-width="1"/>
<circle cx="1575.0" cy="300.0" r="2.9" fill="#CFCBFF" stroke="#1010F0" stroke-width="1"/>
<circle cx="1576.2" cy="307.5" r="2.9" fill="#CFCBFF" stroke="#1010F0" stroke-width="1"/>
<circle cx="1577.0" cy="312.5" r="2.9" fill="#CFCBFF" stroke="#1010F0" stroke-width="1"/>
<circle cx="1577.5" cy="315.0" r="2.9" fill="#CFCBFF" stroke="#1010F0" stroke-width="1"/>
<circle cx="1578.2" cy="321.8" r="2.9" fill="#CFCBFF" stroke="#1010F0" stroke-width="1"/>
<circle cx="1606.2" cy="280.0" r="2.9" fill="#CFCBFF" stroke="#1010F0" stroke-width="1"/>
<circle cx="1609.2" cy="283.2" r="2.9" fill="#CFCBFF" stroke="#1010F0" stroke-width="1"/>
<circle cx="1612.5" cy="272.5" r="2.9" fill="#CFCBFF" stroke="#1010F0" stroke-width="1"/>
<circle cx="1613.0" cy="275.5" r="2.9" fill="#CFCBFF" stroke="#1010F0" stroke-width="1"/>
<circle cx="1628.2" cy="284.2" r="2.9" fill="#CFCBFF" stroke="#1010F0" stroke-width="1"/>
<circle cx="1629.2" cy="295.0" r="2.9" fill="#CFCBFF" stroke="#1010F0" stroke-width="1"/>
<circle cx="1632.5" cy="262.0" r="2.9" fill="#CFCBFF" stroke="#1010F0" stroke-width="1"/>
<circle cx="1637.5" cy="262.5" r="2.9" fill="#CFCBFF" stroke="#1010F0" stroke-width="1"/>
<circle cx="1638.0" cy="267.0" r="2.9" fill="#CFCBFF" stroke="#1010F0" stroke-width="1"/>
<circle cx="1635.5" cy="270.0" r="2.9" fill="#CFCBFF" stroke="#1010F0" stroke-width="1"/>
<circle cx="1638.5" cy="271.2" r="2.9" fill="#CFCBFF" stroke="#1010F0" stroke-width="1"/>
<circle cx="1639.2" cy="281.2" r="2.9" fill="#CFCBFF" stroke="#1010F0" stroke-width="1"/>
<circle cx="1640.8" cy="283.0" r="2.9" fill="#CFCBFF" stroke="#1010F0" stroke-width="1"/>
<circle cx="1640.0" cy="286.2" r="2.9" fill="#CFCBFF" stroke="#1010F0" stroke-width="1"/>
<circle cx="1641.8" cy="290.0" r="2.9" fill="#CFCBFF" stroke="#1010F0" stroke-width="1"/>
<circle cx="1645.8" cy="288.8" r="2.9" fill="#CFCBFF" stroke="#1010F0" stroke-width="1"/>
<circle cx="1657.5" cy="278.8" r="2.9" fill="#CFCBFF" stroke="#1010F0" stroke-width="1"/>
<circle cx="1657.0" cy="280.5" r="2.9" fill="#CFCBFF" stroke="#1010F0" stroke-width="1"/>
<circle cx="1665.8" cy="258.8" r="2.9" fill="#CFCBFF" stroke="#1010F0" stroke-width="1"/>
<circle cx="1667.5" cy="268.8" r="2.9" fill="#CFCBFF" stroke="#1010F0" stroke-width="1"/>
<circle cx="1668.0" cy="272.5" r="2.9" fill="#CFCBFF" stroke="#1010F0" stroke-width="1"/>
<circle cx="1673.8" cy="267.5" r="2.9" fill="#CFCBFF" stroke="#1010F0" stroke-width="1"/>
<circle cx="1675.0" cy="270.0" r="2.9" fill="#CFCBFF" stroke="#1010F0" stroke-width="1"/>
<circle cx="1680.8" cy="262.5" r="2.9" fill="#CFCBFF" stroke="#1010F0" stroke-width="1"/>
<circle cx="1685.0" cy="263.8" r="2.9" fill="#CFCBFF" stroke="#1010F0" stroke-width="1"/>
<circle cx="1375.8" cy="236.3" r="3.3" fill="#CFCBFF" stroke="#1010F0" stroke-width="1"/>
<path d="M1375.8 260.0 L1377.2 263.8 L1381.3 264.0 L1378.1 266.6 L1379.2 270.5 L1375.8 268.2 L1372.4 270.5 L1373.5 266.6 L1370.3 264.0 L1374.4 263.8 Z" fill="#A6E0B4" stroke="#2E9B4E" stroke-width="1"/>
<text x="1385.3" y="243.8" font-family="Liberation Sans, Arial, sans-serif" font-size="20.8" fill="#231815">OBC<tspan font-size="15.5" dy="5.8">1</tspan></text>
<text x="1385.3" y="272.5" font-family="Liberation Sans, Arial, sans-serif" font-size="20.8" fill="#231815">OBC<tspan font-size="15.5" dy="5.8">2</tspan></text>
</svg>
</body></html>
